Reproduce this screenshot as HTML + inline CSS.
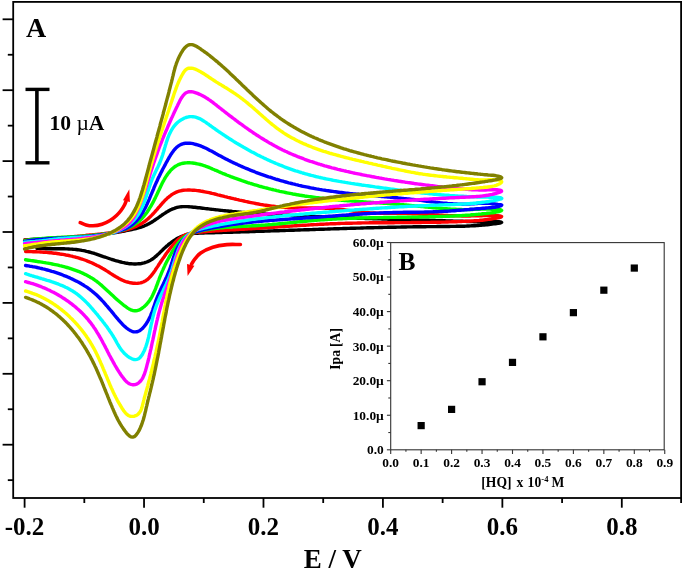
<!DOCTYPE html>
<html><head><meta charset="utf-8"><style>
html,body{margin:0;padding:0;background:#fff;width:685px;height:574px;overflow:hidden}
svg{display:block}
</style></head><body>
<svg width="685" height="574" viewBox="0 0 685 574">
<rect width="685" height="574" fill="#fff"/>
<rect x="13.2" y="1.9" width="667.9" height="496.1" fill="none" stroke="#000" stroke-width="1.8"/>
<line x1="2.6" y1="19.30" x2="13.2" y2="19.30" stroke="#000" stroke-width="1.8"/>
<line x1="7.8" y1="54.75" x2="13.2" y2="54.75" stroke="#000" stroke-width="1.8"/>
<line x1="2.6" y1="90.20" x2="13.2" y2="90.20" stroke="#000" stroke-width="1.8"/>
<line x1="7.8" y1="125.65" x2="13.2" y2="125.65" stroke="#000" stroke-width="1.8"/>
<line x1="2.6" y1="161.10" x2="13.2" y2="161.10" stroke="#000" stroke-width="1.8"/>
<line x1="7.8" y1="196.55" x2="13.2" y2="196.55" stroke="#000" stroke-width="1.8"/>
<line x1="2.6" y1="232.00" x2="13.2" y2="232.00" stroke="#000" stroke-width="1.8"/>
<line x1="7.8" y1="267.45" x2="13.2" y2="267.45" stroke="#000" stroke-width="1.8"/>
<line x1="2.6" y1="302.90" x2="13.2" y2="302.90" stroke="#000" stroke-width="1.8"/>
<line x1="7.8" y1="338.35" x2="13.2" y2="338.35" stroke="#000" stroke-width="1.8"/>
<line x1="2.6" y1="373.80" x2="13.2" y2="373.80" stroke="#000" stroke-width="1.8"/>
<line x1="7.8" y1="409.25" x2="13.2" y2="409.25" stroke="#000" stroke-width="1.8"/>
<line x1="2.6" y1="444.70" x2="13.2" y2="444.70" stroke="#000" stroke-width="1.8"/>
<line x1="7.8" y1="480.15" x2="13.2" y2="480.15" stroke="#000" stroke-width="1.8"/>
<line x1="24.60" y1="498" x2="24.60" y2="507.7" stroke="#000" stroke-width="1.8"/>
<line x1="84.32" y1="498" x2="84.32" y2="503.0" stroke="#000" stroke-width="1.8"/>
<line x1="144.04" y1="498" x2="144.04" y2="507.7" stroke="#000" stroke-width="1.8"/>
<line x1="203.76" y1="498" x2="203.76" y2="503.0" stroke="#000" stroke-width="1.8"/>
<line x1="263.48" y1="498" x2="263.48" y2="507.7" stroke="#000" stroke-width="1.8"/>
<line x1="323.20" y1="498" x2="323.20" y2="503.0" stroke="#000" stroke-width="1.8"/>
<line x1="382.92" y1="498" x2="382.92" y2="507.7" stroke="#000" stroke-width="1.8"/>
<line x1="442.64" y1="498" x2="442.64" y2="503.0" stroke="#000" stroke-width="1.8"/>
<line x1="502.36" y1="498" x2="502.36" y2="507.7" stroke="#000" stroke-width="1.8"/>
<line x1="562.08" y1="498" x2="562.08" y2="503.0" stroke="#000" stroke-width="1.8"/>
<line x1="621.80" y1="498" x2="621.80" y2="507.7" stroke="#000" stroke-width="1.8"/>
<line x1="681.10" y1="498" x2="681.10" y2="503.0" stroke="#000" stroke-width="1.8"/>
<path d="M37.0,248.3L38.5,248.4L39.9,248.5L41.4,248.5L42.9,248.6L44.4,248.6L45.9,248.7L47.4,248.7L48.9,248.7L50.4,248.7L51.9,248.7L53.4,248.7L54.9,248.7L56.5,248.7L58.0,248.7L59.5,248.7L61.0,248.8L62.5,248.8L64.1,248.8L65.6,248.9L67.1,248.9L68.6,249.0L70.1,249.1L71.6,249.1L73.1,249.3L74.6,249.4L76.1,249.5L77.6,249.7L79.1,249.9L80.5,250.1L82.0,250.4L83.5,250.6L84.9,250.9L86.4,251.3L87.8,251.6L89.2,252.0L90.6,252.4L92.1,252.8L93.5,253.2L94.9,253.7L96.3,254.1L97.7,254.6L99.1,255.1L100.5,255.6L101.9,256.1L103.3,256.6L104.8,257.0L106.2,257.5L107.6,258.0L109.0,258.5L110.5,259.0L111.9,259.5L113.4,259.9L114.8,260.4L116.3,260.8L117.8,261.2L119.3,261.6L120.8,262.0L122.3,262.4L123.8,262.7L125.3,263.0L126.8,263.2L128.3,263.5L129.7,263.7L131.2,263.8L132.7,263.9L134.2,264.0L135.7,264.0L137.1,263.9L138.5,263.8L140.0,263.7L141.4,263.5L142.8,263.2L144.2,262.9L145.5,262.4L146.8,262.0L148.2,261.4L149.5,260.8L150.7,260.1L152.0,259.3L153.2,258.5L154.4,257.6L155.5,256.6L156.7,255.6L157.8,254.5L159.0,253.5L160.1,252.4L161.2,251.3L162.4,250.2L163.5,249.0L164.6,248.0L165.8,246.9L167.0,245.9L168.1,244.9L169.3,243.9L170.5,243.0L171.7,242.1L173.0,241.2L174.2,240.4L175.4,239.6L176.7,238.8L178.0,238.1L179.3,237.5L180.6,236.9L181.9,236.3L183.3,235.8L184.7,235.3L186.0,234.9L187.4,234.5L188.8,234.2L190.3,234.0L191.7,233.8L193.2,233.6L194.6,233.4L196.1,233.3L197.6,233.2L199.1,233.1L200.6,233.1L202.1,233.0L203.6,233.0L205.1,232.9L206.6,232.9L208.1,232.8L209.6,232.8L211.1,232.8L212.6,232.7L214.1,232.7L215.6,232.6L217.1,232.6L218.6,232.6L220.1,232.5L221.6,232.5L223.2,232.4L224.7,232.4L226.2,232.4L227.7,232.3L229.2,232.3L230.7,232.2L232.2,232.2L233.7,232.1L235.2,232.1L236.7,232.0L238.2,232.0L239.7,232.0L241.2,231.9L242.7,231.9L244.2,231.8L245.7,231.8L247.2,231.7L248.7,231.7L250.2,231.6L251.7,231.6L253.2,231.5L254.7,231.5L256.2,231.4L257.7,231.4L259.2,231.3L260.7,231.3L262.2,231.2L263.7,231.2L265.2,231.1L266.7,231.1L268.2,231.0L269.7,231.0L271.2,230.9L272.7,230.9L274.2,230.8L275.7,230.8L277.2,230.7L278.8,230.7L280.3,230.6L281.8,230.6L283.3,230.5L284.8,230.5L286.3,230.4L287.8,230.4L289.3,230.3L290.8,230.3L292.3,230.2L293.8,230.2L295.3,230.1L296.8,230.1L298.3,230.0L299.8,230.0L301.3,229.9L302.8,229.9L304.3,229.8L305.8,229.8L307.3,229.7L308.8,229.7L310.3,229.6L311.8,229.6L313.3,229.5L314.8,229.5L316.3,229.4L317.8,229.4L319.3,229.3L320.8,229.3L322.3,229.2L323.8,229.2L325.3,229.1L326.8,229.1L328.2,229.0L329.7,229.0L331.2,228.9L332.7,228.9L334.2,228.8L335.7,228.8L337.2,228.7L338.7,228.7L340.2,228.6L341.7,228.6L343.2,228.5L344.7,228.5L346.2,228.5L347.7,228.4L349.2,228.4L350.7,228.3L352.2,228.3L353.7,228.2L355.2,228.2L356.7,228.1L358.2,228.1L359.7,228.1L361.2,228.0L362.7,228.0L364.2,227.9L365.7,227.9L367.2,227.8L368.7,227.8L370.2,227.8L371.7,227.7L373.2,227.7L374.7,227.6L376.2,227.6L377.6,227.6L379.1,227.5L380.6,227.5L382.1,227.5L383.6,227.4L385.1,227.4L386.6,227.4L388.1,227.3L389.6,227.3L391.1,227.3L392.6,227.2L394.1,227.2L395.6,227.2L397.1,227.1L398.6,227.1L400.1,227.1L401.6,227.0L403.1,227.0L404.5,227.0L406.0,227.0L407.5,226.9L409.0,226.9L410.5,226.9L412.0,226.9L413.5,226.8L415.0,226.8L416.5,226.8L418.0,226.8L419.5,226.7L421.0,226.7L422.5,226.7L424.0,226.7L425.4,226.7L426.9,226.6L428.4,226.6L429.9,226.6L431.4,226.6L432.9,226.6L434.4,226.6L435.9,226.6L437.4,226.5L438.9,226.5L440.4,226.5L441.9,226.5L443.3,226.5L444.8,226.5L446.3,226.5L447.8,226.5L449.3,226.5L450.8,226.4L452.3,226.4L453.8,226.4L455.3,226.4L456.8,226.3L458.3,226.3L459.8,226.3L461.3,226.2L462.8,226.2L464.3,226.2L465.8,226.1L467.4,226.0L468.9,226.0L470.4,225.9L471.9,225.8L473.4,225.8L475.0,225.7L476.5,225.6L478.0,225.5L479.6,225.4L481.1,225.2L482.7,225.1L484.2,225.0L485.8,224.8L487.3,224.7L488.9,224.5L490.5,224.3L492.1,224.1L493.6,223.9L495.2,223.7L496.8,223.5L498.4,223.2L500.0,223.0L501.1,222.7L501.6,222.4L501.3,222.1L500.3,221.9L498.8,221.7L497.1,221.6L495.4,221.6L493.6,221.6L491.8,221.7L490.1,221.7L488.3,221.8L486.7,221.8L485.0,221.8L483.4,221.8L481.8,221.8L480.3,221.8L478.7,221.8L477.2,221.7L475.7,221.7L474.2,221.7L472.8,221.6L471.3,221.6L469.8,221.5L468.4,221.5L466.9,221.5L465.4,221.4L464.0,221.4L462.5,221.3L461.0,221.3L459.6,221.2L458.1,221.2L456.6,221.2L455.2,221.1L453.7,221.1L452.2,221.0L450.7,221.0L449.3,220.9L447.8,220.9L446.3,220.9L444.8,220.8L443.4,220.8L441.9,220.7L440.4,220.7L438.9,220.6L437.4,220.6L436.0,220.6L434.5,220.5L433.0,220.5L431.5,220.4L430.0,220.4L428.5,220.3L427.0,220.3L425.6,220.3L424.1,220.2L422.6,220.2L421.1,220.1L419.6,220.1L418.1,220.0L416.6,220.0L415.1,220.0L413.6,219.9L412.1,219.9L410.7,219.8L409.2,219.8L407.7,219.7L406.2,219.7L404.7,219.7L403.2,219.6L401.7,219.6L400.2,219.5L398.7,219.5L397.2,219.4L395.7,219.4L394.2,219.3L392.7,219.3L391.2,219.3L389.7,219.2L388.2,219.2L386.7,219.1L385.2,219.1L383.7,219.0L382.2,219.0L380.7,218.9L379.2,218.9L377.7,218.8L376.2,218.8L374.7,218.7L373.2,218.7L371.7,218.6L370.2,218.6L368.7,218.6L367.2,218.5L365.7,218.5L364.1,218.4L362.6,218.4L361.1,218.3L359.6,218.2L358.1,218.2L356.6,218.1L355.1,218.1L353.6,218.0L352.1,218.0L350.6,217.9L349.1,217.9L347.6,217.8L346.1,217.8L344.6,217.7L343.1,217.7L341.6,217.6L340.1,217.6L338.6,217.5L337.0,217.4L335.5,217.4L334.0,217.3L332.5,217.3L331.0,217.2L329.5,217.1L328.0,217.1L326.5,217.0L325.0,217.0L323.5,216.9L322.0,216.8L320.5,216.8L319.0,216.7L317.5,216.7L316.0,216.6L314.5,216.5L313.0,216.5L311.5,216.4L310.0,216.3L308.5,216.3L307.0,216.2L305.5,216.1L304.0,216.1L302.5,216.0L301.0,215.9L299.5,215.8L298.0,215.8L296.5,215.7L295.0,215.6L293.5,215.5L292.0,215.5L290.5,215.4L289.0,215.3L287.5,215.2L286.0,215.2L284.5,215.1L283.0,215.0L281.5,214.9L280.0,214.9L278.5,214.8L277.0,214.7L275.5,214.6L274.0,214.5L272.5,214.4L271.0,214.3L269.5,214.3L268.0,214.2L266.5,214.1L265.0,214.0L263.6,213.9L262.1,213.8L260.6,213.7L259.1,213.6L257.6,213.5L256.1,213.4L254.6,213.3L253.1,213.2L251.6,213.1L250.1,213.0L248.7,212.8L247.2,212.7L245.7,212.6L244.2,212.5L242.7,212.4L241.2,212.3L239.7,212.1L238.2,212.0L236.8,211.9L235.3,211.7L233.8,211.6L232.3,211.5L230.8,211.3L229.3,211.2L227.9,211.0L226.4,210.9L224.9,210.7L223.4,210.6L221.9,210.4L220.4,210.3L219.0,210.1L217.5,209.9L216.0,209.8L214.5,209.6L213.0,209.4L211.5,209.3L210.0,209.1L208.6,208.9L207.1,208.7L205.6,208.6L204.1,208.4L202.6,208.2L201.1,208.0L199.6,207.8L198.0,207.7L196.5,207.5L195.0,207.3L193.5,207.2L191.9,207.0L190.4,206.9L188.9,206.7L187.4,206.6L185.8,206.6L184.3,206.6L182.8,206.6L181.4,206.7L179.9,206.9L178.5,207.1L177.0,207.4L175.6,207.8L174.3,208.3L172.9,208.8L171.6,209.4L170.2,210.0L168.9,210.7L167.6,211.5L166.3,212.2L165.1,213.1L163.8,213.9L162.5,214.7L161.3,215.6L160.0,216.5L158.8,217.4L157.5,218.3L156.2,219.2L155.0,220.0L153.7,220.9L152.4,221.7L151.1,222.5L149.8,223.2L148.5,223.9L147.2,224.6L145.8,225.2L144.5,225.8L143.1,226.3L141.7,226.8L140.4,227.3L139.0,227.7L137.5,228.2L136.1,228.5L134.7,228.9L133.3,229.2L131.8,229.5L130.4,229.8L128.9,230.1L127.5,230.4L126.0,230.7L124.6,231.0L123.1,231.2L121.6,231.5L120.1,231.7L118.7,232.0L117.2,232.3L115.7,232.5L114.2,232.7L112.8,233.0L111.3,233.2L109.8,233.5L108.3,233.7L106.8,233.9L105.3,234.1L103.8,234.3L102.4,234.5L100.9,234.7L99.4,234.9L97.9,235.1L96.4,235.3L94.9,235.5L93.4,235.6L91.9,235.8L90.4,235.9L88.9,236.1L87.4,236.2L85.9,236.3L84.4,236.5L83.0,236.6L81.5,236.7L80.0,236.8L78.5,236.9L77.0,237.0L75.5,237.1L74.0,237.2L72.5,237.3L71.0,237.4L69.5,237.4L68.0,237.5L66.5,237.6L65.0,237.7L63.5,237.8L62.0,237.8L60.5,237.9L59.0,238.0L57.5,238.0L56.0,238.1L54.5,238.2L53.0,238.2L51.5,238.3L50.0,238.4L48.5,238.5L47.1,238.5L45.6,238.6L44.1,238.7L42.6,238.8L41.1,238.8L39.6,238.9L38.1,239.0L36.6,239.1L35.1,239.2L33.6,239.3L32.1,239.4L30.6,239.5L29.1,239.6L27.6,239.7L26.1,239.9L24.6,240.0" fill="none" stroke="#000000" stroke-width="3.4" stroke-linecap="round" stroke-linejoin="round"/>
<path d="M25.6,251.5L27.1,251.5L28.6,251.6L30.1,251.6L31.6,251.6L33.1,251.7L34.6,251.7L36.1,251.8L37.6,251.9L39.1,251.9L40.6,252.0L42.1,252.1L43.6,252.2L45.1,252.3L46.6,252.4L48.1,252.6L49.6,252.7L51.1,252.8L52.6,253.0L54.1,253.2L55.6,253.3L57.0,253.5L58.5,253.7L60.0,254.0L61.5,254.2L63.0,254.4L64.4,254.7L65.9,255.0L67.4,255.2L68.8,255.5L70.3,255.9L71.8,256.2L73.2,256.6L74.7,256.9L76.1,257.3L77.5,257.7L79.0,258.1L80.4,258.6L81.8,259.0L83.2,259.5L84.7,260.0L86.1,260.5L87.5,261.1L88.8,261.6L90.2,262.2L91.6,262.8L93.0,263.4L94.3,264.1L95.7,264.7L97.0,265.4L98.4,266.1L99.7,266.8L101.0,267.5L102.3,268.3L103.6,269.0L104.9,269.8L106.2,270.6L107.5,271.4L108.8,272.2L110.0,273.1L111.3,273.9L112.6,274.7L113.8,275.5L115.1,276.3L116.4,277.1L117.7,277.8L119.0,278.5L120.4,279.2L121.7,279.9L123.1,280.5L124.5,281.1L125.9,281.6L127.4,282.0L128.8,282.4L130.3,282.8L131.8,283.0L133.3,283.2L134.8,283.3L136.2,283.4L137.7,283.3L139.1,283.1L140.5,282.9L141.9,282.5L143.2,282.0L144.5,281.4L145.7,280.7L146.9,279.9L148.0,278.9L149.1,277.9L150.2,276.8L151.2,275.7L152.2,274.4L153.1,273.2L154.1,271.9L155.0,270.6L155.8,269.2L156.7,267.9L157.6,266.6L158.4,265.3L159.2,264.0L160.1,262.8L160.9,261.5L161.7,260.3L162.5,259.1L163.3,257.9L164.2,256.7L165.0,255.5L165.8,254.3L166.7,253.1L167.5,251.9L168.4,250.8L169.3,249.6L170.2,248.4L171.2,247.2L172.1,246.0L173.1,244.8L174.1,243.7L175.1,242.5L176.2,241.4L177.3,240.3L178.4,239.3L179.5,238.4L180.7,237.5L182.0,236.6L183.2,235.9L184.5,235.2L185.9,234.6L187.3,234.2L188.7,233.8L190.2,233.5L191.6,233.2L193.1,233.0L194.6,232.8L196.1,232.6L197.6,232.4L199.1,232.3L200.6,232.1L202.1,232.0L203.6,231.8L205.1,231.7L206.6,231.6L208.1,231.4L209.6,231.3L211.1,231.2L212.6,231.1L214.1,231.0L215.6,230.9L217.1,230.8L218.6,230.7L220.1,230.6L221.6,230.5L223.1,230.4L224.6,230.3L226.1,230.2L227.6,230.1L229.1,230.0L230.6,229.9L232.1,229.9L233.6,229.8L235.1,229.7L236.6,229.6L238.1,229.5L239.6,229.4L241.0,229.3L242.5,229.2L244.0,229.2L245.5,229.1L247.0,229.0L248.5,228.9L250.0,228.8L251.5,228.7L253.0,228.6L254.5,228.5L256.0,228.4L257.5,228.3L259.0,228.2L260.5,228.1L262.0,228.0L263.5,227.9L265.0,227.8L266.5,227.7L267.9,227.6L269.4,227.5L270.9,227.4L272.4,227.3L273.9,227.2L275.4,227.1L276.9,227.0L278.4,226.9L279.9,226.8L281.4,226.7L282.9,226.6L284.4,226.5L285.9,226.4L287.4,226.3L288.9,226.2L290.4,226.1L291.9,226.0L293.4,225.9L294.9,225.8L296.4,225.7L297.9,225.6L299.4,225.5L300.9,225.4L302.4,225.3L303.9,225.3L305.4,225.2L306.9,225.1L308.4,225.0L309.9,224.9L311.3,224.8L312.8,224.7L314.3,224.6L315.8,224.6L317.3,224.5L318.8,224.4L320.3,224.3L321.8,224.3L323.3,224.2L324.8,224.1L326.3,224.0L327.8,224.0L329.3,223.9L330.8,223.8L332.3,223.8L333.8,223.7L335.3,223.7L336.8,223.6L338.3,223.5L339.8,223.5L341.3,223.4L342.8,223.4L344.3,223.4L345.8,223.3L347.3,223.3L348.8,223.2L350.3,223.2L351.8,223.2L353.3,223.1L354.8,223.1L356.3,223.1L357.8,223.0L359.3,223.0L360.8,223.0L362.3,222.9L363.8,222.9L365.3,222.9L366.8,222.9L368.3,222.9L369.8,222.8L371.3,222.8L372.8,222.8L374.3,222.8L375.8,222.8L377.3,222.8L378.8,222.8L380.3,222.7L381.8,222.7L383.3,222.7L384.8,222.7L386.3,222.7L387.8,222.7L389.3,222.7L390.8,222.7L392.3,222.7L393.8,222.7L395.3,222.6L396.8,222.6L398.3,222.6L399.8,222.6L401.3,222.6L402.8,222.6L404.3,222.6L405.8,222.6L407.3,222.6L408.8,222.6L410.3,222.6L411.8,222.5L413.3,222.5L414.8,222.5L416.3,222.5L417.8,222.5L419.3,222.5L420.8,222.5L422.3,222.4L423.8,222.4L425.3,222.4L426.8,222.4L428.3,222.4L429.8,222.4L431.3,222.3L432.8,222.3L434.3,222.3L435.8,222.2L437.3,222.2L438.8,222.2L440.3,222.2L441.8,222.1L443.2,222.1L444.7,222.1L446.2,222.0L447.7,222.0L449.2,221.9L450.7,221.9L452.2,221.8L453.7,221.8L455.2,221.7L456.7,221.7L458.2,221.6L459.7,221.6L461.2,221.5L462.7,221.4L464.2,221.4L465.7,221.3L467.1,221.2L468.6,221.2L470.1,221.1L471.6,221.0L473.1,220.9L474.6,220.8L476.1,220.7L477.6,220.6L479.1,220.5L480.7,220.3L482.2,220.2L483.7,220.0L485.3,219.8L486.8,219.6L488.4,219.4L489.9,219.2L491.5,219.0L493.1,218.7L494.7,218.4L496.3,218.2L497.9,217.8L499.5,217.5L500.8,217.2L501.5,216.8L501.6,216.5L500.9,216.2L499.6,216.0L498.0,215.8L496.1,215.7L494.2,215.7L492.2,215.6L490.2,215.6L488.4,215.6L486.6,215.6L484.9,215.6L483.2,215.6L481.6,215.7L480.1,215.7L478.6,215.8L477.2,215.8L475.7,215.8L474.3,215.9L473.0,215.9L471.6,215.9L470.2,216.0L468.9,216.0L467.5,216.0L466.1,216.0L464.7,216.0L463.3,216.0L461.9,216.0L460.4,215.9L459.0,215.9L457.6,215.9L456.1,215.8L454.7,215.8L453.2,215.7L451.7,215.7L450.3,215.6L448.8,215.6L447.3,215.5L445.8,215.4L444.3,215.4L442.8,215.3L441.3,215.2L439.8,215.1L438.3,215.0L436.8,215.0L435.3,214.9L433.8,214.8L432.2,214.7L430.7,214.6L429.2,214.5L427.7,214.4L426.1,214.3L424.6,214.3L423.1,214.2L421.5,214.1L420.0,214.0L418.5,213.9L416.9,213.9L415.4,213.8L413.9,213.7L412.3,213.7L410.8,213.6L409.3,213.5L407.8,213.5L406.2,213.4L404.7,213.4L403.2,213.3L401.7,213.3L400.2,213.3L398.7,213.3L397.1,213.2L395.6,213.2L394.2,213.2L392.7,213.2L391.2,213.2L389.7,213.2L388.2,213.2L386.7,213.2L385.2,213.2L383.7,213.2L382.3,213.2L380.8,213.2L379.3,213.1L377.8,213.1L376.4,213.1L374.9,213.0L373.4,213.0L371.9,212.9L370.4,212.9L369.0,212.8L367.5,212.7L366.0,212.6L364.5,212.5L363.1,212.3L361.6,212.2L360.1,212.0L358.6,211.8L357.1,211.7L355.6,211.5L354.2,211.3L352.7,211.1L351.2,210.8L349.7,210.6L348.2,210.4L346.7,210.2L345.2,210.0L343.7,209.8L342.2,209.6L340.7,209.4L339.2,209.2L337.7,209.0L336.2,208.9L334.7,208.7L333.2,208.6L331.7,208.5L330.2,208.4L328.8,208.3L327.3,208.2L325.8,208.2L324.3,208.1L322.8,208.1L321.3,208.0L319.8,208.0L318.3,208.0L316.8,208.0L315.3,208.0L313.8,208.0L312.3,208.0L310.8,208.0L309.3,208.0L307.8,208.0L306.3,208.0L304.8,208.0L303.3,208.0L301.8,208.0L300.3,208.0L298.8,208.0L297.3,207.9L295.8,207.9L294.3,207.9L292.8,207.8L291.3,207.8L289.8,207.7L288.3,207.7L286.8,207.6L285.3,207.5L283.8,207.4L282.3,207.3L280.8,207.1L279.3,207.0L277.9,206.8L276.4,206.7L274.9,206.5L273.4,206.3L271.9,206.1L270.4,205.9L268.9,205.7L267.4,205.5L265.9,205.3L264.5,205.1L263.0,204.8L261.5,204.6L260.0,204.3L258.5,204.0L257.1,203.8L255.6,203.5L254.1,203.2L252.6,202.9L251.1,202.6L249.7,202.3L248.2,202.0L246.7,201.7L245.3,201.4L243.8,201.0L242.3,200.7L240.9,200.4L239.4,200.1L237.9,199.7L236.5,199.4L235.0,199.0L233.6,198.7L232.1,198.3L230.7,198.0L229.2,197.6L227.8,197.3L226.3,196.9L224.9,196.6L223.4,196.2L222.0,195.8L220.6,195.5L219.1,195.1L217.7,194.8L216.3,194.4L214.8,194.0L213.4,193.7L212.0,193.4L210.5,193.0L209.1,192.7L207.6,192.4L206.2,192.1L204.7,191.8L203.2,191.5L201.8,191.3L200.3,191.0L198.8,190.8L197.3,190.6L195.7,190.4L194.2,190.3L192.6,190.2L191.1,190.1L189.5,190.0L188.0,190.0L186.4,190.1L184.9,190.1L183.4,190.3L181.9,190.5L180.5,190.8L179.1,191.2L177.7,191.6L176.4,192.1L175.1,192.7L173.8,193.4L172.6,194.1L171.4,194.9L170.3,195.8L169.1,196.7L168.0,197.6L166.9,198.6L165.9,199.6L164.8,200.6L163.8,201.7L162.7,202.8L161.7,204.0L160.7,205.1L159.7,206.3L158.7,207.4L157.7,208.6L156.7,209.8L155.7,210.9L154.7,212.1L153.7,213.2L152.6,214.3L151.6,215.4L150.5,216.5L149.4,217.5L148.3,218.6L147.2,219.5L146.1,220.4L144.9,221.3L143.7,222.2L142.5,223.0L141.2,223.7L139.9,224.5L138.7,225.1L137.3,225.8L136.0,226.4L134.7,227.0L133.3,227.5L131.9,228.1L130.5,228.5L129.1,229.0L127.7,229.4L126.3,229.8L124.8,230.2L123.4,230.6L121.9,230.9L120.4,231.2L118.9,231.5L117.4,231.8L115.9,232.1L114.4,232.3L112.9,232.6L111.4,232.8L109.8,233.0L108.3,233.2L106.8,233.3L105.2,233.5L103.7,233.7L102.2,233.8L100.6,234.0L99.1,234.1L97.6,234.3L96.0,234.4L94.5,234.6L93.0,234.7L91.5,234.9L90.0,235.0L88.5,235.2L87.0,235.3L85.5,235.5L84.0,235.6L82.5,235.8L81.1,235.9L79.6,236.1L78.1,236.2L76.6,236.4L75.2,236.5L73.7,236.7L72.2,236.8L70.8,236.9L69.3,237.1L67.8,237.2L66.4,237.4L64.9,237.5L63.4,237.6L62.0,237.8L60.5,237.9L59.1,238.0L57.6,238.2L56.1,238.3L54.7,238.4L53.2,238.5L51.7,238.7L50.2,238.8L48.8,238.9L47.3,239.0L45.8,239.1L44.3,239.2L42.8,239.3L41.3,239.4L39.8,239.5L38.3,239.6L36.8,239.7L35.3,239.8L33.8,239.8L32.3,239.9L30.8,240.0L29.2,240.0L27.7,240.1L26.2,240.1L24.6,240.2" fill="none" stroke="#ff0000" stroke-width="3.4" stroke-linecap="round" stroke-linejoin="round"/>
<path d="M25.6,259.8L27.0,260.0L28.5,260.2L29.9,260.4L31.4,260.6L32.8,260.8L34.3,261.0L35.8,261.2L37.3,261.5L38.7,261.7L40.2,261.9L41.7,262.1L43.2,262.4L44.7,262.6L46.2,262.9L47.7,263.1L49.2,263.4L50.7,263.7L52.2,264.0L53.7,264.3L55.2,264.6L56.7,264.9L58.1,265.2L59.6,265.6L61.1,265.9L62.6,266.3L64.0,266.7L65.5,267.1L67.0,267.5L68.4,267.9L69.9,268.3L71.3,268.8L72.7,269.3L74.1,269.8L75.6,270.3L77.0,270.8L78.3,271.3L79.7,271.9L81.1,272.5L82.5,273.1L83.8,273.7L85.1,274.4L86.4,275.0L87.7,275.7L89.0,276.4L90.3,277.2L91.6,277.9L92.8,278.7L94.0,279.5L95.2,280.4L96.4,281.2L97.6,282.1L98.8,283.0L99.9,284.0L101.0,284.9L102.2,285.9L103.3,286.9L104.4,287.9L105.5,288.9L106.6,289.9L107.7,290.9L108.8,291.9L109.9,293.0L111.0,294.0L112.1,295.1L113.2,296.1L114.4,297.2L115.5,298.2L116.6,299.2L117.8,300.3L119.0,301.3L120.2,302.3L121.4,303.3L122.6,304.3L123.8,305.3L125.1,306.2L126.4,307.2L127.7,308.1L129.0,308.9L130.4,309.6L131.7,310.2L133.1,310.6L134.5,310.8L135.9,310.8L137.2,310.6L138.6,310.2L140.0,309.6L141.3,308.8L142.5,307.9L143.7,307.0L144.8,306.1L145.9,305.0L146.9,304.0L147.8,302.8L148.7,301.7L149.6,300.5L150.4,299.2L151.2,298.0L151.9,296.7L152.6,295.3L153.2,294.0L153.9,292.6L154.5,291.2L155.1,289.8L155.7,288.4L156.2,286.9L156.8,285.5L157.3,284.1L157.8,282.6L158.3,281.2L158.9,279.8L159.4,278.4L159.9,277.0L160.5,275.6L161.1,274.2L161.6,272.8L162.2,271.4L162.8,270.1L163.4,268.7L164.0,267.4L164.6,266.1L165.2,264.7L165.9,263.4L166.5,262.1L167.2,260.8L167.9,259.5L168.6,258.2L169.3,256.9L170.0,255.6L170.8,254.3L171.5,253.0L172.3,251.7L173.1,250.4L173.9,249.1L174.8,247.8L175.7,246.5L176.6,245.2L177.5,244.0L178.4,242.8L179.4,241.6L180.4,240.5L181.5,239.4L182.6,238.4L183.7,237.5L184.9,236.6L186.2,235.8L187.4,235.1L188.7,234.5L190.1,233.9L191.5,233.3L192.9,232.9L194.3,232.4L195.7,232.0L197.2,231.6L198.6,231.3L200.1,231.0L201.6,230.7L203.0,230.4L204.5,230.1L206.0,229.8L207.5,229.6L209.0,229.3L210.5,229.1L211.9,228.9L213.4,228.7L214.9,228.5L216.4,228.3L217.9,228.2L219.4,228.0L220.9,227.8L222.4,227.7L223.9,227.6L225.4,227.4L226.9,227.3L228.4,227.2L229.9,227.1L231.4,227.0L232.9,226.9L234.4,226.8L235.9,226.7L237.4,226.6L238.9,226.5L240.4,226.5L241.9,226.4L243.4,226.3L244.9,226.2L246.4,226.2L247.9,226.1L249.4,226.0L250.9,225.9L252.4,225.8L253.9,225.8L255.4,225.7L256.9,225.6L258.4,225.5L259.9,225.4L261.4,225.3L262.9,225.2L264.4,225.1L265.8,225.0L267.3,224.9L268.8,224.7L270.3,224.6L271.8,224.5L273.3,224.3L274.8,224.2L276.3,224.1L277.8,223.9L279.2,223.8L280.7,223.7L282.2,223.5L283.7,223.4L285.2,223.2L286.7,223.1L288.1,222.9L289.6,222.8L291.1,222.6L292.6,222.5L294.1,222.3L295.6,222.2L297.1,222.0L298.5,221.9L300.0,221.7L301.5,221.6L303.0,221.4L304.5,221.3L306.0,221.2L307.5,221.0L308.9,220.9L310.4,220.8L311.9,220.6L313.4,220.5L314.9,220.4L316.4,220.3L317.9,220.1L319.4,220.0L320.9,219.9L322.4,219.8L323.9,219.7L325.4,219.6L326.9,219.5L328.4,219.4L329.9,219.3L331.4,219.2L332.9,219.1L334.4,219.1L335.9,219.0L337.4,218.9L338.9,218.8L340.4,218.8L341.9,218.7L343.4,218.6L344.9,218.6L346.4,218.5L347.9,218.4L349.4,218.4L350.9,218.3L352.4,218.3L353.9,218.2L355.4,218.2L357.0,218.1L358.5,218.1L360.0,218.0L361.5,218.0L363.0,218.0L364.5,217.9L366.0,217.9L367.5,217.9L369.0,217.8L370.5,217.8L372.0,217.8L373.5,217.7L375.0,217.7L376.5,217.7L378.0,217.6L379.6,217.6L381.1,217.6L382.6,217.6L384.1,217.5L385.6,217.5L387.1,217.5L388.6,217.5L390.1,217.4L391.6,217.4L393.1,217.4L394.6,217.4L396.1,217.4L397.6,217.3L399.1,217.3L400.6,217.3L402.1,217.3L403.6,217.3L405.1,217.2L406.6,217.2L408.1,217.2L409.5,217.2L411.0,217.1L412.5,217.1L414.0,217.1L415.5,217.1L417.0,217.1L418.5,217.0L420.0,217.0L421.4,217.0L422.9,216.9L424.4,216.9L425.9,216.9L427.4,216.9L428.8,216.8L430.3,216.8L431.8,216.8L433.3,216.7L434.7,216.7L436.2,216.6L437.7,216.6L439.2,216.6L440.6,216.5L442.1,216.5L443.5,216.4L445.0,216.4L446.5,216.3L447.9,216.2L449.4,216.2L450.9,216.1L452.4,216.1L453.8,216.0L455.3,215.9L456.8,215.8L458.3,215.8L459.8,215.7L461.3,215.6L462.8,215.5L464.3,215.4L465.8,215.3L467.3,215.2L468.8,215.1L470.3,215.0L471.9,214.8L473.4,214.7L475.0,214.6L476.5,214.4L478.1,214.3L479.7,214.1L481.3,214.0L482.9,213.8L484.5,213.6L486.1,213.5L487.7,213.3L489.4,213.1L491.1,212.9L492.7,212.7L494.4,212.5L496.0,212.2L497.6,211.9L499.0,211.6L500.3,211.2L501.2,210.8L501.6,210.4L501.3,210.1L500.5,209.8L499.3,209.6L497.7,209.5L495.8,209.3L493.8,209.2L491.8,209.2L489.8,209.1L487.9,209.1L486.1,209.1L484.4,209.1L482.7,209.1L481.1,209.1L479.6,209.2L478.1,209.2L476.6,209.3L475.2,209.3L473.8,209.4L472.4,209.5L471.0,209.5L469.6,209.5L468.3,209.6L466.9,209.6L465.5,209.6L464.1,209.6L462.7,209.6L461.2,209.5L459.8,209.5L458.4,209.5L457.0,209.4L455.5,209.3L454.1,209.3L452.6,209.2L451.2,209.1L449.7,209.0L448.2,208.9L446.8,208.8L445.3,208.7L443.8,208.6L442.3,208.5L440.9,208.4L439.4,208.2L437.9,208.1L436.4,208.0L434.9,207.8L433.4,207.7L431.9,207.6L430.4,207.4L428.9,207.3L427.4,207.1L425.8,207.0L424.3,206.8L422.8,206.6L421.3,206.5L419.8,206.3L418.3,206.2L416.8,206.0L415.2,205.9L413.7,205.7L412.2,205.6L410.7,205.4L409.2,205.3L407.7,205.1L406.1,205.0L404.6,204.9L403.1,204.7L401.6,204.6L400.1,204.5L398.6,204.3L397.1,204.2L395.6,204.1L394.1,204.0L392.5,203.9L391.0,203.8L389.5,203.6L388.0,203.5L386.5,203.4L385.0,203.3L383.5,203.2L382.0,203.1L380.5,203.0L379.0,202.9L377.5,202.8L376.0,202.7L374.5,202.6L373.0,202.5L371.5,202.4L370.0,202.3L368.6,202.2L367.1,202.1L365.6,202.0L364.1,201.9L362.6,201.8L361.1,201.7L359.6,201.6L358.1,201.5L356.6,201.4L355.1,201.2L353.6,201.1L352.2,201.0L350.7,200.9L349.2,200.8L347.7,200.7L346.2,200.6L344.7,200.5L343.2,200.3L341.8,200.2L340.3,200.1L338.8,200.0L337.3,199.8L335.8,199.7L334.3,199.6L332.9,199.4L331.4,199.3L329.9,199.1L328.4,199.0L326.9,198.8L325.4,198.7L324.0,198.5L322.5,198.3L321.0,198.2L319.5,198.0L318.0,197.8L316.6,197.6L315.1,197.4L313.6,197.2L312.1,197.0L310.7,196.8L309.2,196.6L307.7,196.4L306.2,196.2L304.7,196.0L303.3,195.7L301.8,195.5L300.3,195.3L298.8,195.0L297.3,194.8L295.9,194.5L294.4,194.2L292.9,194.0L291.4,193.7L290.0,193.4L288.5,193.1L287.0,192.8L285.5,192.5L284.1,192.2L282.6,191.9L281.1,191.6L279.7,191.3L278.2,190.9L276.7,190.6L275.2,190.2L273.8,189.9L272.3,189.5L270.9,189.2L269.4,188.8L267.9,188.4L266.5,188.0L265.0,187.7L263.6,187.3L262.1,186.9L260.7,186.5L259.2,186.1L257.8,185.6L256.3,185.2L254.9,184.8L253.4,184.4L252.0,183.9L250.6,183.5L249.1,183.0L247.7,182.6L246.3,182.1L244.9,181.6L243.4,181.1L242.0,180.7L240.6,180.2L239.2,179.7L237.8,179.2L236.4,178.7L235.0,178.2L233.6,177.6L232.2,177.1L230.8,176.6L229.4,176.0L228.0,175.5L226.6,175.0L225.3,174.4L223.9,173.8L222.5,173.3L221.2,172.7L219.8,172.1L218.4,171.5L217.1,170.9L215.7,170.3L214.4,169.8L213.0,169.2L211.7,168.6L210.3,168.0L208.9,167.4L207.5,166.9L206.1,166.4L204.7,165.8L203.3,165.4L201.8,164.9L200.3,164.5L198.8,164.1L197.3,163.8L195.7,163.5L194.2,163.2L192.6,163.0L191.0,162.9L189.4,162.8L187.8,162.8L186.2,162.9L184.7,163.0L183.2,163.2L181.8,163.5L180.5,163.9L179.2,164.4L177.9,164.9L176.7,165.6L175.5,166.3L174.4,167.0L173.4,167.8L172.3,168.7L171.3,169.7L170.4,170.7L169.5,171.8L168.6,172.9L167.7,174.0L166.9,175.2L166.1,176.4L165.3,177.7L164.5,179.0L163.8,180.3L163.0,181.7L162.3,183.1L161.6,184.5L160.9,185.9L160.3,187.3L159.6,188.7L158.9,190.2L158.2,191.6L157.6,193.1L156.9,194.5L156.2,195.9L155.5,197.4L154.8,198.8L154.1,200.2L153.4,201.6L152.7,202.9L151.9,204.3L151.2,205.6L150.4,206.9L149.6,208.2L148.8,209.5L148.0,210.7L147.2,212.0L146.3,213.2L145.4,214.3L144.5,215.5L143.6,216.6L142.6,217.7L141.6,218.7L140.6,219.7L139.6,220.7L138.5,221.6L137.4,222.5L136.2,223.4L135.1,224.2L133.9,225.0L132.6,225.7L131.3,226.4L130.0,227.1L128.7,227.7L127.3,228.3L125.9,228.8L124.5,229.3L123.1,229.8L121.7,230.3L120.2,230.7L118.7,231.1L117.2,231.5L115.7,231.8L114.2,232.1L112.7,232.5L111.2,232.8L109.7,233.0L108.2,233.3L106.7,233.6L105.2,233.8L103.7,234.0L102.2,234.3L100.7,234.5L99.2,234.7L97.7,234.8L96.2,235.0L94.7,235.2L93.2,235.3L91.7,235.5L90.2,235.6L88.7,235.8L87.2,235.9L85.7,236.0L84.2,236.1L82.7,236.2L81.2,236.3L79.8,236.4L78.3,236.5L76.8,236.6L75.3,236.7L73.8,236.7L72.3,236.8L70.8,236.9L69.4,237.0L67.9,237.0L66.4,237.1L64.9,237.2L63.4,237.2L61.9,237.3L60.4,237.4L59.0,237.4L57.5,237.5L56.0,237.6L54.5,237.7L53.0,237.8L51.5,237.8L50.0,237.9L48.5,238.0L47.1,238.1L45.6,238.2L44.1,238.4L42.6,238.5L41.1,238.6L39.6,238.7L38.1,238.9L36.6,239.0L35.1,239.2L33.6,239.4L32.1,239.5L30.6,239.7L29.1,239.9L27.6,240.1L26.1,240.4L24.6,240.6" fill="none" stroke="#00ff00" stroke-width="3.4" stroke-linecap="round" stroke-linejoin="round"/>
<path d="M25.6,265.5L27.0,265.7L28.4,265.9L29.8,266.2L31.2,266.4L32.7,266.7L34.1,266.9L35.6,267.2L37.0,267.5L38.5,267.8L39.9,268.2L41.4,268.5L42.9,268.9L44.4,269.2L45.8,269.6L47.3,270.0L48.8,270.4L50.3,270.8L51.7,271.3L53.2,271.7L54.7,272.2L56.2,272.7L57.6,273.2L59.1,273.7L60.5,274.2L62.0,274.7L63.4,275.3L64.9,275.9L66.3,276.4L67.7,277.0L69.1,277.6L70.5,278.3L71.9,278.9L73.3,279.6L74.6,280.2L76.0,280.9L77.3,281.6L78.7,282.3L80.0,283.0L81.3,283.8L82.5,284.5L83.8,285.3L85.0,286.1L86.3,286.9L87.5,287.7L88.7,288.6L89.8,289.4L91.0,290.3L92.1,291.2L93.2,292.1L94.3,293.0L95.3,293.9L96.4,294.8L97.4,295.8L98.4,296.8L99.4,297.8L100.4,298.8L101.4,299.8L102.4,300.9L103.4,301.9L104.3,303.0L105.3,304.1L106.3,305.3L107.3,306.4L108.3,307.6L109.3,308.8L110.3,310.0L111.3,311.2L112.3,312.4L113.4,313.7L114.4,315.0L115.5,316.3L116.6,317.7L117.8,319.0L118.9,320.3L120.1,321.7L121.2,322.9L122.4,324.2L123.6,325.4L124.8,326.5L126.0,327.6L127.2,328.5L128.4,329.4L129.6,330.1L130.8,330.8L132.0,331.3L133.1,331.7L134.3,331.9L135.5,331.9L136.6,331.8L137.8,331.5L138.9,331.0L140.0,330.4L141.1,329.6L142.1,328.7L143.1,327.7L144.1,326.6L145.0,325.4L146.0,324.2L146.8,322.8L147.7,321.5L148.4,320.1L149.2,318.7L149.8,317.3L150.5,315.9L151.1,314.5L151.6,313.0L152.2,311.6L152.7,310.2L153.1,308.8L153.6,307.4L154.1,306.0L154.6,304.6L155.0,303.2L155.5,301.8L156.0,300.4L156.6,299.0L157.1,297.6L157.7,296.2L158.3,294.8L158.9,293.4L159.5,292.1L160.1,290.7L160.8,289.3L161.4,287.9L162.1,286.6L162.7,285.2L163.4,283.8L164.0,282.5L164.7,281.1L165.3,279.7L165.9,278.3L166.6,277.0L167.2,275.6L167.8,274.2L168.3,272.8L168.9,271.5L169.4,270.1L169.9,268.7L170.4,267.3L170.9,265.9L171.3,264.5L171.8,263.1L172.2,261.7L172.6,260.3L173.0,258.9L173.5,257.5L174.0,256.1L174.5,254.7L175.0,253.3L175.6,251.9L176.2,250.5L176.8,249.1L177.6,247.7L178.3,246.3L179.1,245.0L180.0,243.7L180.9,242.4L181.8,241.2L182.8,240.1L183.9,238.9L185.0,237.9L186.1,236.9L187.3,236.0L188.5,235.2L189.8,234.5L191.1,233.8L192.4,233.2L193.7,232.6L195.1,232.1L196.5,231.6L198.0,231.2L199.4,230.8L200.8,230.4L202.3,230.1L203.8,229.7L205.2,229.4L206.7,229.1L208.2,228.8L209.7,228.5L211.1,228.2L212.6,227.9L214.1,227.6L215.6,227.3L217.0,227.1L218.5,226.8L220.0,226.5L221.5,226.3L223.0,226.0L224.4,225.8L225.9,225.5L227.4,225.3L228.9,225.1L230.4,224.9L231.8,224.6L233.3,224.4L234.8,224.2L236.3,224.0L237.8,223.8L239.3,223.6L240.8,223.5L242.3,223.3L243.7,223.1L245.2,222.9L246.7,222.7L248.2,222.6L249.7,222.4L251.2,222.2L252.7,222.1L254.2,221.9L255.7,221.8L257.2,221.6L258.7,221.5L260.2,221.4L261.6,221.2L263.1,221.1L264.6,220.9L266.1,220.8L267.6,220.7L269.1,220.6L270.6,220.4L272.1,220.3L273.6,220.2L275.1,220.1L276.6,220.0L278.1,219.9L279.6,219.8L281.1,219.6L282.6,219.5L284.1,219.4L285.6,219.3L287.1,219.2L288.6,219.1L290.1,219.0L291.6,218.9L293.1,218.8L294.6,218.7L296.0,218.6L297.5,218.5L299.0,218.4L300.5,218.3L302.0,218.2L303.5,218.1L305.0,218.0L306.5,217.9L308.0,217.8L309.5,217.7L311.0,217.6L312.5,217.5L314.0,217.4L315.5,217.3L317.0,217.2L318.5,217.1L320.0,217.0L321.5,216.9L323.0,216.7L324.5,216.6L325.9,216.5L327.4,216.4L328.9,216.3L330.4,216.2L331.9,216.1L333.4,216.0L334.9,215.9L336.4,215.7L337.9,215.6L339.4,215.5L340.9,215.4L342.4,215.3L343.9,215.2L345.4,215.1L346.8,215.0L348.3,214.9L349.8,214.8L351.3,214.7L352.8,214.6L354.3,214.5L355.8,214.4L357.3,214.3L358.8,214.2L360.3,214.1L361.8,214.0L363.3,213.9L364.8,213.8L366.3,213.7L367.8,213.6L369.3,213.5L370.8,213.4L372.3,213.4L373.8,213.3L375.3,213.2L376.8,213.1L378.3,213.1L379.7,213.0L381.2,212.9L382.8,212.9L384.3,212.8L385.8,212.8L387.3,212.7L388.8,212.7L390.3,212.6L391.8,212.6L393.3,212.5L394.8,212.5L396.3,212.5L397.8,212.4L399.3,212.4L400.8,212.4L402.3,212.4L403.8,212.3L405.3,212.3L406.8,212.3L408.3,212.3L409.8,212.3L411.3,212.2L412.9,212.2L414.4,212.2L415.9,212.2L417.4,212.2L418.9,212.2L420.4,212.1L421.9,212.1L423.4,212.1L424.9,212.0L426.4,212.0L427.9,212.0L429.4,211.9L430.9,211.9L432.3,211.9L433.8,211.8L435.3,211.8L436.8,211.7L438.3,211.6L439.8,211.6L441.3,211.5L442.7,211.4L444.2,211.3L445.7,211.2L447.2,211.2L448.7,211.1L450.1,211.0L451.6,210.9L453.1,210.8L454.6,210.7L456.1,210.5L457.5,210.4L459.0,210.3L460.5,210.2L462.0,210.1L463.5,210.0L465.0,209.8L466.4,209.7L467.9,209.6L469.4,209.5L470.9,209.3L472.4,209.2L473.9,209.1L475.4,208.9L477.0,208.8L478.5,208.7L480.0,208.6L481.5,208.4L483.0,208.3L484.6,208.2L486.1,208.0L487.7,207.9L489.2,207.8L490.8,207.7L492.3,207.5L493.9,207.4L495.5,207.2L497.2,206.9L498.9,206.5L500.4,206.0L501.4,205.5L501.7,205.1L501.0,204.8L499.6,204.6L497.9,204.4L496.2,204.1L494.5,203.9L492.7,203.7L491.0,203.5L489.3,203.4L487.7,203.3L486.1,203.2L484.5,203.2L482.9,203.2L481.4,203.3L479.9,203.4L478.4,203.4L476.9,203.5L475.5,203.6L474.0,203.7L472.6,203.8L471.1,203.9L469.7,204.0L468.2,204.1L466.7,204.1L465.3,204.1L463.8,204.2L462.4,204.2L460.9,204.1L459.4,204.1L458.0,204.1L456.5,204.0L455.0,204.0L453.6,203.9L452.1,203.8L450.6,203.7L449.1,203.6L447.6,203.5L446.2,203.3L444.7,203.2L443.2,203.1L441.7,202.9L440.2,202.8L438.7,202.6L437.2,202.4L435.7,202.3L434.3,202.1L432.8,201.9L431.3,201.7L429.8,201.6L428.3,201.4L426.8,201.2L425.3,201.0L423.8,200.8L422.3,200.6L420.8,200.4L419.3,200.3L417.8,200.1L416.3,199.9L414.8,199.7L413.3,199.5L411.8,199.4L410.3,199.2L408.8,199.0L407.3,198.9L405.8,198.7L404.3,198.6L402.8,198.4L401.3,198.3L399.8,198.1L398.3,198.0L396.8,197.8L395.3,197.7L393.8,197.5L392.3,197.4L390.8,197.3L389.3,197.1L387.8,197.0L386.3,196.9L384.8,196.7L383.3,196.6L381.8,196.5L380.3,196.3L378.8,196.2L377.3,196.1L375.8,195.9L374.3,195.8L372.9,195.7L371.4,195.6L369.9,195.4L368.4,195.3L366.9,195.1L365.4,195.0L363.9,194.9L362.4,194.7L360.9,194.6L359.4,194.5L357.9,194.3L356.4,194.2L354.9,194.0L353.5,193.9L352.0,193.7L350.5,193.6L349.0,193.4L347.5,193.2L346.0,193.1L344.5,192.9L343.0,192.7L341.6,192.5L340.1,192.4L338.6,192.2L337.1,192.0L335.6,191.8L334.1,191.6L332.7,191.4L331.2,191.2L329.7,191.0L328.2,190.8L326.7,190.6L325.3,190.3L323.8,190.1L322.3,189.9L320.8,189.6L319.4,189.4L317.9,189.1L316.4,188.9L314.9,188.6L313.5,188.3L312.0,188.1L310.5,187.8L309.1,187.5L307.6,187.2L306.1,186.9L304.7,186.6L303.2,186.3L301.7,186.0L300.3,185.6L298.8,185.3L297.4,184.9L295.9,184.6L294.4,184.2L293.0,183.9L291.5,183.5L290.1,183.1L288.6,182.8L287.2,182.4L285.7,182.0L284.3,181.6L282.9,181.2L281.4,180.8L280.0,180.4L278.5,179.9L277.1,179.5L275.7,179.1L274.2,178.6L272.8,178.2L271.4,177.7L270.0,177.2L268.5,176.8L267.1,176.3L265.7,175.8L264.3,175.3L262.9,174.8L261.4,174.3L260.0,173.8L258.6,173.3L257.2,172.8L255.8,172.3L254.4,171.7L253.0,171.2L251.6,170.6L250.3,170.1L248.9,169.5L247.5,168.9L246.1,168.4L244.7,167.8L243.4,167.2L242.0,166.6L240.6,166.0L239.2,165.4L237.9,164.8L236.5,164.1L235.2,163.5L233.8,162.9L232.5,162.2L231.1,161.6L229.8,160.9L228.4,160.3L227.1,159.6L225.8,158.9L224.5,158.2L223.1,157.5L221.8,156.8L220.5,156.1L219.2,155.4L217.9,154.7L216.6,154.0L215.3,153.3L214.0,152.5L212.7,151.8L211.4,151.1L210.0,150.4L208.7,149.7L207.4,149.0L206.0,148.3L204.7,147.7L203.3,147.1L201.9,146.5L200.5,145.9L199.0,145.4L197.5,144.9L196.0,144.5L194.5,144.1L193.0,143.7L191.4,143.4L189.9,143.3L188.4,143.2L186.9,143.1L185.4,143.3L184.0,143.5L182.6,143.8L181.3,144.3L180.1,144.9L178.9,145.6L177.7,146.5L176.6,147.4L175.6,148.4L174.6,149.5L173.6,150.7L172.7,151.9L171.8,153.2L170.9,154.5L170.1,155.9L169.3,157.2L168.5,158.6L167.7,160.0L167.0,161.4L166.2,162.7L165.5,164.1L164.8,165.4L164.1,166.7L163.4,168.0L162.7,169.3L162.1,170.6L161.4,171.9L160.7,173.2L160.1,174.5L159.5,175.8L158.8,177.1L158.2,178.3L157.6,179.6L157.0,181.0L156.4,182.3L155.8,183.6L155.2,184.9L154.6,186.3L154.0,187.7L153.5,189.1L152.9,190.5L152.3,191.9L151.7,193.3L151.1,194.7L150.5,196.2L149.9,197.6L149.3,199.1L148.7,200.5L148.0,201.9L147.4,203.4L146.7,204.8L146.1,206.2L145.4,207.6L144.6,209.0L143.9,210.3L143.2,211.7L142.4,213.0L141.6,214.2L140.7,215.5L139.9,216.7L139.0,217.9L138.1,219.0L137.1,220.2L136.1,221.2L135.1,222.2L134.0,223.2L132.9,224.1L131.8,225.0L130.6,225.8L129.4,226.6L128.1,227.3L126.9,228.0L125.5,228.6L124.2,229.2L122.8,229.7L121.4,230.2L120.0,230.7L118.6,231.2L117.1,231.6L115.7,232.0L114.2,232.3L112.7,232.7L111.2,233.0L109.7,233.3L108.2,233.6L106.7,233.9L105.3,234.1L103.8,234.4L102.3,234.6L100.8,234.8L99.3,235.1L97.8,235.3L96.3,235.5L94.8,235.6L93.3,235.8L91.8,236.0L90.3,236.1L88.8,236.3L87.3,236.4L85.8,236.5L84.4,236.7L82.9,236.8L81.4,236.9L79.9,237.0L78.4,237.1L76.9,237.2L75.4,237.3L73.9,237.4L72.4,237.5L70.9,237.5L69.4,237.6L67.9,237.7L66.4,237.8L64.9,237.9L63.4,237.9L61.9,238.0L60.4,238.1L58.9,238.2L57.4,238.2L55.9,238.3L54.4,238.4L52.9,238.5L51.4,238.6L50.0,238.7L48.5,238.8L47.0,238.9L45.5,239.0L44.0,239.1L42.5,239.2L41.0,239.4L39.5,239.5L38.0,239.7L36.5,239.8L35.0,240.0L33.5,240.1L32.0,240.3L30.6,240.5L29.1,240.7L27.6,240.9L26.1,241.2L24.6,241.4" fill="none" stroke="#0000ff" stroke-width="3.4" stroke-linecap="round" stroke-linejoin="round"/>
<path d="M25.6,273.7L27.0,274.2L28.4,274.6L29.8,275.1L31.2,275.5L32.6,276.0L34.0,276.4L35.4,276.8L36.9,277.2L38.3,277.7L39.8,278.1L41.2,278.5L42.7,279.0L44.2,279.4L45.6,279.8L47.1,280.3L48.5,280.7L50.0,281.2L51.4,281.7L52.9,282.1L54.3,282.6L55.8,283.1L57.2,283.7L58.6,284.2L60.0,284.8L61.4,285.3L62.8,285.9L64.2,286.5L65.5,287.2L66.9,287.8L68.2,288.5L69.5,289.2L70.8,290.0L72.1,290.7L73.3,291.5L74.6,292.3L75.8,293.2L77.0,294.0L78.1,294.9L79.3,295.9L80.4,296.8L81.5,297.8L82.6,298.8L83.7,299.8L84.8,300.8L85.9,301.9L86.9,302.9L88.0,304.0L89.0,305.1L90.0,306.2L91.0,307.3L92.0,308.5L93.0,309.6L94.0,310.8L95.0,311.9L95.9,313.1L96.9,314.2L97.9,315.4L98.8,316.6L99.8,317.8L100.7,319.0L101.7,320.1L102.6,321.3L103.5,322.5L104.5,323.7L105.4,324.9L106.3,326.1L107.2,327.3L108.0,328.5L108.9,329.7L109.7,331.0L110.6,332.2L111.4,333.4L112.2,334.7L113.0,335.9L113.7,337.1L114.5,338.4L115.2,339.7L115.9,340.9L116.6,342.2L117.3,343.5L118.0,344.7L118.8,346.0L119.5,347.3L120.4,348.5L121.3,349.8L122.3,351.0L123.3,352.2L124.5,353.5L125.7,354.6L127.1,355.8L128.5,356.8L129.9,357.8L131.4,358.5L132.8,359.1L134.2,359.5L135.5,359.6L136.8,359.4L137.9,359.0L139.0,358.4L140.0,357.5L140.9,356.5L141.8,355.3L142.6,354.0L143.3,352.6L144.0,351.2L144.7,349.7L145.2,348.2L145.8,346.8L146.3,345.3L146.8,343.9L147.2,342.4L147.6,341.0L148.0,339.5L148.3,338.1L148.7,336.7L149.0,335.2L149.3,333.8L149.6,332.3L149.9,330.8L150.2,329.4L150.5,327.9L150.8,326.5L151.1,325.0L151.4,323.5L151.8,322.1L152.1,320.6L152.4,319.2L152.7,317.7L153.1,316.3L153.5,314.8L153.9,313.4L154.3,311.9L154.7,310.5L155.2,309.1L155.7,307.6L156.2,306.2L156.7,304.8L157.3,303.4L157.9,302.0L158.5,300.6L159.1,299.2L159.7,297.8L160.3,296.5L161.0,295.1L161.7,293.7L162.3,292.3L163.0,291.0L163.6,289.6L164.3,288.3L164.9,286.9L165.6,285.5L166.2,284.2L166.8,282.8L167.4,281.5L168.0,280.1L168.6,278.8L169.1,277.4L169.6,276.1L170.1,274.7L170.6,273.3L171.1,272.0L171.5,270.6L172.0,269.2L172.4,267.9L172.8,266.5L173.3,265.1L173.7,263.7L174.1,262.2L174.6,260.8L175.0,259.4L175.5,257.9L176.0,256.5L176.5,255.0L177.0,253.5L177.6,252.0L178.1,250.5L178.7,249.0L179.4,247.6L180.0,246.1L180.7,244.7L181.5,243.3L182.2,242.0L183.0,240.6L183.9,239.4L184.8,238.2L185.8,237.1L186.8,236.0L187.8,235.0L188.9,234.1L190.1,233.3L191.3,232.5L192.6,231.9L193.9,231.2L195.2,230.7L196.6,230.2L198.0,229.7L199.4,229.3L200.9,228.9L202.3,228.5L203.8,228.2L205.3,227.8L206.7,227.5L208.2,227.2L209.7,226.8L211.2,226.5L212.6,226.2L214.1,225.9L215.6,225.6L217.1,225.3L218.5,225.0L220.0,224.7L221.5,224.4L223.0,224.1L224.4,223.9L225.9,223.6L227.4,223.3L228.9,223.1L230.4,222.8L231.8,222.6L233.3,222.3L234.8,222.1L236.3,221.8L237.8,221.6L239.3,221.3L240.7,221.1L242.2,220.9L243.7,220.7L245.2,220.5L246.7,220.2L248.2,220.0L249.6,219.8L251.1,219.6L252.6,219.4L254.1,219.2L255.6,219.0L257.1,218.8L258.6,218.6L260.0,218.5L261.5,218.3L263.0,218.1L264.5,217.9L266.0,217.8L267.5,217.6L269.0,217.4L270.5,217.2L272.0,217.1L273.4,216.9L274.9,216.8L276.4,216.6L277.9,216.4L279.4,216.3L280.9,216.1L282.4,216.0L283.9,215.8L285.4,215.7L286.9,215.6L288.4,215.4L289.8,215.3L291.3,215.1L292.8,215.0L294.3,214.9L295.8,214.7L297.3,214.6L298.8,214.5L300.3,214.3L301.8,214.2L303.3,214.1L304.8,213.9L306.3,213.8L307.8,213.7L309.3,213.6L310.8,213.4L312.3,213.3L313.7,213.2L315.2,213.1L316.7,212.9L318.2,212.8L319.7,212.7L321.2,212.6L322.7,212.4L324.2,212.3L325.7,212.2L327.2,212.1L328.7,212.0L330.2,211.8L331.7,211.7L333.2,211.6L334.7,211.5L336.2,211.3L337.7,211.2L339.2,211.1L340.7,211.0L342.2,210.9L343.7,210.8L345.2,210.6L346.6,210.5L348.1,210.4L349.6,210.3L351.1,210.2L352.6,210.1L354.1,210.0L355.6,209.8L357.1,209.7L358.6,209.6L360.1,209.5L361.6,209.4L363.1,209.3L364.6,209.2L366.1,209.1L367.6,209.0L369.1,208.9L370.6,208.8L372.1,208.7L373.6,208.5L375.1,208.4L376.6,208.3L378.1,208.2L379.6,208.1L381.1,208.0L382.6,207.9L384.1,207.9L385.6,207.8L387.0,207.7L388.5,207.6L390.0,207.5L391.5,207.4L393.0,207.3L394.5,207.2L396.0,207.1L397.5,207.0L399.0,206.9L400.5,206.8L402.0,206.8L403.5,206.7L405.0,206.6L406.5,206.5L408.0,206.4L409.5,206.4L411.0,206.3L412.5,206.2L414.0,206.1L415.5,206.0L417.0,206.0L418.5,205.9L420.0,205.8L421.4,205.8L422.9,205.7L424.4,205.6L425.9,205.6L427.4,205.5L428.9,205.4L430.4,205.4L431.9,205.3L433.4,205.3L434.9,205.2L436.4,205.1L437.9,205.1L439.4,205.0L440.9,205.0L442.4,204.9L443.9,204.9L445.3,204.8L446.8,204.8L448.3,204.7L449.8,204.7L451.3,204.6L452.8,204.6L454.3,204.5L455.8,204.4L457.3,204.4L458.8,204.3L460.3,204.2L461.8,204.1L463.3,204.1L464.8,204.0L466.3,203.9L467.8,203.8L469.3,203.7L470.8,203.5L472.3,203.4L473.8,203.3L475.3,203.2L476.8,203.0L478.3,202.8L479.8,202.7L481.3,202.5L482.8,202.3L484.3,202.1L485.8,201.9L487.3,201.7L488.8,201.5L490.3,201.2L491.8,200.9L493.4,200.7L494.9,200.4L496.6,200.0L498.3,199.6L500.0,199.2L501.2,198.8L501.7,198.4L501.2,198.0L500.0,197.7L498.3,197.4L496.5,197.3L494.7,197.2L492.9,197.2L491.2,197.2L489.4,197.2L487.8,197.1L486.2,197.1L484.6,197.1L483.1,197.1L481.6,197.1L480.2,197.0L478.8,197.0L477.3,197.0L475.9,196.9L474.6,196.9L473.2,196.8L471.8,196.7L470.4,196.7L469.0,196.6L467.5,196.6L466.1,196.5L464.6,196.4L463.2,196.3L461.7,196.2L460.2,196.2L458.7,196.1L457.2,196.0L455.7,195.9L454.2,195.8L452.7,195.7L451.1,195.6L449.6,195.5L448.1,195.3L446.5,195.2L445.0,195.1L443.5,195.0L441.9,194.9L440.4,194.7L438.9,194.6L437.4,194.5L435.8,194.3L434.3,194.2L432.8,194.0L431.3,193.9L429.8,193.7L428.3,193.6L426.8,193.4L425.3,193.3L423.8,193.1L422.3,193.0L420.8,192.8L419.3,192.6L417.9,192.5L416.4,192.3L414.9,192.1L413.4,191.9L411.9,191.8L410.5,191.6L409.0,191.4L407.5,191.2L406.0,191.0L404.6,190.8L403.1,190.6L401.6,190.5L400.2,190.3L398.7,190.1L397.2,189.9L395.7,189.7L394.3,189.5L392.8,189.3L391.3,189.1L389.9,188.9L388.4,188.7L386.9,188.5L385.4,188.3L384.0,188.1L382.5,187.9L381.0,187.7L379.5,187.5L378.1,187.3L376.6,187.1L375.1,186.9L373.6,186.6L372.1,186.4L370.6,186.2L369.2,186.0L367.7,185.8L366.2,185.6L364.7,185.4L363.2,185.2L361.7,185.0L360.2,184.7L358.7,184.5L357.2,184.3L355.7,184.1L354.2,183.8L352.7,183.6L351.2,183.4L349.7,183.1L348.3,182.9L346.8,182.6L345.3,182.4L343.8,182.1L342.3,181.9L340.8,181.6L339.3,181.4L337.8,181.1L336.3,180.8L334.8,180.6L333.3,180.3L331.9,180.0L330.4,179.7L328.9,179.4L327.4,179.1L325.9,178.8L324.5,178.5L323.0,178.2L321.5,177.8L320.1,177.5L318.6,177.2L317.1,176.8L315.7,176.5L314.2,176.1L312.7,175.7L311.3,175.4L309.8,175.0L308.4,174.6L306.9,174.2L305.5,173.8L304.1,173.4L302.6,173.0L301.2,172.5L299.8,172.1L298.4,171.7L296.9,171.2L295.5,170.8L294.1,170.3L292.7,169.8L291.3,169.3L289.9,168.8L288.5,168.3L287.1,167.8L285.7,167.3L284.3,166.8L282.9,166.2L281.6,165.7L280.2,165.2L278.8,164.6L277.4,164.0L276.1,163.5L274.7,162.9L273.3,162.3L272.0,161.7L270.6,161.1L269.3,160.5L267.9,159.9L266.6,159.3L265.2,158.6L263.9,158.0L262.6,157.3L261.2,156.7L259.9,156.0L258.6,155.4L257.2,154.7L255.9,154.0L254.6,153.3L253.3,152.6L251.9,151.9L250.6,151.2L249.3,150.5L248.0,149.8L246.7,149.0L245.4,148.3L244.1,147.6L242.8,146.8L241.5,146.1L240.2,145.3L238.9,144.5L237.6,143.7L236.3,143.0L235.0,142.2L233.7,141.4L232.5,140.6L231.2,139.8L229.9,139.0L228.6,138.1L227.3,137.3L226.1,136.5L224.8,135.6L223.5,134.8L222.2,133.9L221.0,133.1L219.7,132.2L218.4,131.4L217.2,130.5L215.9,129.6L214.7,128.7L213.4,127.8L212.1,126.9L210.9,126.0L209.6,125.1L208.4,124.2L207.1,123.3L205.9,122.4L204.6,121.6L203.3,120.8L202.1,120.0L200.8,119.3L199.5,118.6L198.2,118.1L196.9,117.6L195.6,117.2L194.3,116.9L192.9,116.7L191.5,116.6L190.2,116.6L188.8,116.8L187.4,117.1L186.0,117.5L184.6,118.0L183.2,118.7L181.9,119.4L180.6,120.2L179.3,121.1L178.1,122.0L177.0,123.0L176.0,124.0L175.0,125.1L174.0,126.3L173.2,127.4L172.4,128.7L171.6,129.9L170.9,131.2L170.2,132.6L169.5,133.9L168.9,135.3L168.4,136.7L167.8,138.1L167.3,139.6L166.8,141.1L166.3,142.5L165.9,144.0L165.4,145.5L165.0,147.0L164.5,148.5L164.1,150.0L163.7,151.5L163.2,153.0L162.8,154.5L162.3,156.0L161.8,157.4L161.3,158.8L160.8,160.2L160.2,161.6L159.7,163.0L159.1,164.3L158.5,165.6L157.9,166.9L157.2,168.3L156.6,169.6L156.0,170.8L155.3,172.1L154.7,173.5L154.1,174.8L153.5,176.1L152.9,177.5L152.3,178.8L151.8,180.2L151.2,181.6L150.7,183.0L150.2,184.5L149.7,185.9L149.2,187.4L148.7,188.8L148.3,190.3L147.8,191.8L147.3,193.2L146.8,194.7L146.3,196.2L145.8,197.7L145.3,199.1L144.8,200.6L144.3,202.0L143.7,203.4L143.1,204.9L142.5,206.3L141.9,207.6L141.3,209.0L140.6,210.3L139.9,211.7L139.2,212.9L138.4,214.2L137.6,215.4L136.7,216.6L135.9,217.8L134.9,218.9L133.9,220.0L132.9,221.1L131.9,222.1L130.8,223.0L129.6,224.0L128.5,224.9L127.3,225.7L126.1,226.6L124.8,227.4L123.5,228.1L122.2,228.8L120.9,229.5L119.6,230.1L118.2,230.7L116.8,231.3L115.4,231.8L114.0,232.3L112.6,232.8L111.2,233.2L109.8,233.6L108.3,234.0L106.9,234.3L105.4,234.6L104.0,234.9L102.5,235.2L101.0,235.4L99.5,235.7L98.0,235.9L96.5,236.0L95.0,236.2L93.5,236.4L92.0,236.5L90.5,236.6L88.9,236.8L87.4,236.9L85.9,237.0L84.4,237.0L82.8,237.1L81.3,237.2L79.8,237.3L78.3,237.4L76.7,237.5L75.2,237.5L73.7,237.6L72.2,237.7L70.7,237.8L69.2,237.9L67.7,238.0L66.2,238.1L64.7,238.2L63.2,238.4L61.8,238.5L60.3,238.7L58.8,238.8L57.3,239.0L55.9,239.2L54.4,239.3L53.0,239.5L51.5,239.7L50.0,239.8L48.6,240.0L47.1,240.2L45.6,240.4L44.2,240.5L42.7,240.7L41.2,240.9L39.7,241.0L38.3,241.2L36.8,241.3L35.3,241.5L33.8,241.6L32.3,241.7L30.8,241.8L29.2,241.9L27.7,242.0L26.2,242.1L24.6,242.2" fill="none" stroke="#00ffff" stroke-width="3.4" stroke-linecap="round" stroke-linejoin="round"/>
<path d="M25.6,281.7L27.0,282.1L28.4,282.5L29.8,282.9L31.3,283.3L32.7,283.7L34.1,284.2L35.5,284.6L36.9,285.1L38.3,285.6L39.7,286.2L41.1,286.7L42.5,287.3L43.9,287.8L45.2,288.4L46.6,289.0L48.0,289.7L49.4,290.3L50.7,291.0L52.1,291.7L53.4,292.3L54.8,293.1L56.1,293.8L57.4,294.5L58.7,295.3L60.0,296.1L61.3,296.8L62.6,297.7L63.9,298.5L65.2,299.3L66.4,300.2L67.7,301.0L68.9,301.9L70.1,302.8L71.3,303.7L72.5,304.6L73.7,305.6L74.9,306.5L76.0,307.5L77.1,308.5L78.3,309.5L79.4,310.5L80.5,311.5L81.5,312.6L82.6,313.6L83.7,314.7L84.7,315.8L85.7,316.9L86.7,318.0L87.7,319.1L88.6,320.3L89.5,321.4L90.5,322.6L91.4,323.8L92.2,324.9L93.1,326.1L93.9,327.4L94.8,328.6L95.6,329.8L96.4,331.1L97.1,332.3L97.9,333.6L98.7,334.9L99.4,336.1L100.1,337.4L100.9,338.7L101.6,340.0L102.3,341.3L103.0,342.7L103.7,344.0L104.4,345.3L105.1,346.6L105.8,348.0L106.5,349.3L107.1,350.6L107.8,352.0L108.5,353.3L109.2,354.7L109.9,356.0L110.6,357.3L111.3,358.7L112.1,360.0L112.8,361.3L113.5,362.7L114.3,364.0L115.0,365.3L115.8,366.6L116.6,368.0L117.4,369.3L118.2,370.6L119.0,371.9L119.9,373.2L120.7,374.5L121.6,375.7L122.5,377.0L123.5,378.2L124.4,379.4L125.4,380.6L126.4,381.6L127.5,382.5L128.6,383.3L129.8,384.0L131.1,384.4L132.4,384.7L133.7,384.7L135.1,384.6L136.5,384.1L137.8,383.5L139.0,382.6L140.1,381.6L141.1,380.4L142.0,379.1L142.8,377.8L143.4,376.4L144.0,375.0L144.6,373.6L145.0,372.2L145.5,370.8L145.9,369.4L146.3,367.9L146.7,366.5L147.0,365.1L147.4,363.6L147.8,362.2L148.2,360.8L148.5,359.3L148.9,357.9L149.2,356.4L149.5,354.9L149.9,353.5L150.2,352.0L150.5,350.5L150.9,349.1L151.2,347.6L151.5,346.1L151.8,344.6L152.1,343.2L152.4,341.7L152.8,340.2L153.1,338.7L153.4,337.3L153.7,335.8L154.0,334.3L154.3,332.8L154.6,331.3L155.0,329.9L155.3,328.4L155.6,326.9L155.9,325.4L156.3,324.0L156.6,322.5L156.9,321.0L157.3,319.6L157.6,318.1L158.0,316.7L158.3,315.2L158.7,313.7L159.1,312.3L159.5,310.9L159.9,309.4L160.3,308.0L160.7,306.6L161.1,305.1L161.5,303.7L161.9,302.3L162.4,300.9L162.8,299.5L163.3,298.1L163.8,296.7L164.2,295.3L164.7,293.9L165.2,292.5L165.7,291.1L166.2,289.7L166.7,288.4L167.2,287.0L167.7,285.6L168.2,284.2L168.7,282.8L169.2,281.4L169.7,280.0L170.2,278.6L170.7,277.1L171.1,275.7L171.6,274.3L172.1,272.8L172.5,271.4L173.0,269.9L173.4,268.5L173.9,267.0L174.3,265.5L174.7,264.0L175.2,262.5L175.6,261.0L176.0,259.5L176.5,258.0L176.9,256.6L177.4,255.1L177.8,253.6L178.4,252.2L178.9,250.8L179.4,249.3L180.0,248.0L180.6,246.6L181.3,245.3L182.0,244.0L182.7,242.7L183.5,241.5L184.3,240.3L185.2,239.2L186.1,238.1L187.1,237.0L188.1,236.0L189.2,235.0L190.3,234.1L191.5,233.2L192.6,232.3L193.9,231.5L195.1,230.7L196.4,229.9L197.7,229.2L199.0,228.5L200.3,227.8L201.7,227.2L203.1,226.6L204.4,226.0L205.8,225.5L207.2,224.9L208.7,224.4L210.1,224.0L211.5,223.5L212.9,223.1L214.4,222.7L215.8,222.3L217.3,221.9L218.7,221.6L220.2,221.2L221.6,220.9L223.1,220.6L224.6,220.3L226.0,220.0L227.5,219.8L229.0,219.5L230.5,219.3L232.0,219.0L233.5,218.8L234.9,218.6L236.4,218.3L237.9,218.1L239.4,217.9L240.9,217.7L242.4,217.5L243.9,217.3L245.4,217.1L246.9,216.8L248.4,216.6L249.9,216.4L251.3,216.2L252.8,216.0L254.3,215.8L255.8,215.6L257.3,215.4L258.8,215.2L260.3,215.0L261.8,214.8L263.3,214.6L264.8,214.4L266.2,214.2L267.7,214.0L269.2,213.8L270.7,213.6L272.2,213.4L273.7,213.3L275.2,213.1L276.7,212.9L278.2,212.7L279.6,212.5L281.1,212.3L282.6,212.1L284.1,212.0L285.6,211.8L287.1,211.6L288.6,211.4L290.1,211.2L291.6,211.1L293.0,210.9L294.5,210.7L296.0,210.5L297.5,210.4L299.0,210.2L300.5,210.0L302.0,209.9L303.5,209.7L305.0,209.5L306.4,209.4L307.9,209.2L309.4,209.0L310.9,208.9L312.4,208.7L313.9,208.5L315.4,208.4L316.9,208.2L318.3,208.1L319.8,207.9L321.3,207.8L322.8,207.6L324.3,207.4L325.8,207.3L327.3,207.1L328.8,207.0L330.3,206.8L331.7,206.7L333.2,206.5L334.7,206.4L336.2,206.2L337.7,206.1L339.2,206.0L340.7,205.8L342.2,205.7L343.7,205.5L345.1,205.4L346.6,205.3L348.1,205.1L349.6,205.0L351.1,204.8L352.6,204.7L354.1,204.6L355.6,204.4L357.1,204.3L358.6,204.2L360.0,204.1L361.5,203.9L363.0,203.8L364.5,203.7L366.0,203.5L367.5,203.4L369.0,203.3L370.5,203.2L372.0,203.0L373.5,202.9L375.0,202.8L376.4,202.7L377.9,202.6L379.4,202.5L380.9,202.3L382.4,202.2L383.9,202.1L385.4,202.0L386.9,201.9L388.4,201.8L389.9,201.7L391.4,201.5L392.9,201.4L394.3,201.3L395.8,201.2L397.3,201.1L398.8,201.0L400.3,200.9L401.8,200.8L403.3,200.7L404.8,200.6L406.3,200.5L407.8,200.4L409.3,200.3L410.8,200.2L412.3,200.1L413.8,200.0L415.3,199.9L416.8,199.8L418.3,199.7L419.8,199.6L421.3,199.5L422.8,199.4L424.2,199.3L425.7,199.2L427.2,199.2L428.7,199.1L430.2,199.0L431.7,198.9L433.2,198.8L434.7,198.7L436.2,198.6L437.7,198.6L439.2,198.5L440.7,198.4L442.2,198.3L443.7,198.2L445.2,198.2L446.7,198.1L448.2,198.0L449.7,197.9L451.2,197.8L452.7,197.8L454.2,197.7L455.7,197.6L457.2,197.5L458.7,197.5L460.2,197.4L461.7,197.3L463.2,197.3L464.8,197.2L466.3,197.1L467.8,197.1L469.3,197.0L470.8,196.9L472.3,196.8L473.8,196.7L475.3,196.6L476.8,196.5L478.3,196.4L479.8,196.3L481.4,196.1L482.9,195.9L484.4,195.7L486.0,195.5L487.5,195.3L489.1,195.0L490.6,194.7L492.2,194.4L493.7,194.0L495.3,193.6L496.9,193.2L498.4,192.7L499.9,192.2L501.0,191.7L501.6,191.3L501.5,190.8L500.9,190.5L499.8,190.2L498.4,190.0L496.8,189.8L495.1,189.8L493.3,189.7L491.4,189.8L489.5,189.8L487.6,189.9L485.8,190.0L484.0,190.0L482.3,190.0L480.7,190.0L479.1,190.0L477.6,189.9L476.1,189.9L474.6,189.8L473.2,189.7L471.8,189.7L470.4,189.6L469.0,189.5L467.6,189.4L466.2,189.3L464.8,189.1L463.3,189.0L461.9,188.9L460.4,188.8L459.0,188.7L457.5,188.5L456.1,188.4L454.6,188.3L453.2,188.1L451.7,188.0L450.2,187.8L448.7,187.7L447.3,187.5L445.8,187.4L444.3,187.2L442.8,187.1L441.3,186.9L439.8,186.7L438.3,186.6L436.8,186.4L435.3,186.2L433.8,186.0L432.3,185.8L430.8,185.7L429.3,185.5L427.8,185.3L426.3,185.1L424.8,184.9L423.3,184.7L421.8,184.5L420.3,184.3L418.7,184.1L417.2,183.9L415.7,183.7L414.2,183.5L412.7,183.2L411.2,183.0L409.7,182.8L408.2,182.6L406.7,182.4L405.2,182.2L403.7,181.9L402.3,181.7L400.8,181.5L399.3,181.3L397.8,181.0L396.3,180.8L394.8,180.6L393.4,180.3L391.9,180.1L390.4,179.8L389.0,179.6L387.5,179.4L386.0,179.1L384.5,178.9L383.1,178.6L381.6,178.3L380.2,178.1L378.7,177.8L377.2,177.6L375.8,177.3L374.3,177.0L372.8,176.8L371.4,176.5L369.9,176.2L368.5,175.9L367.0,175.7L365.5,175.4L364.1,175.1L362.6,174.8L361.2,174.5L359.7,174.2L358.2,173.9L356.8,173.6L355.3,173.3L353.8,173.0L352.4,172.7L350.9,172.3L349.4,172.0L348.0,171.7L346.5,171.4L345.1,171.0L343.6,170.7L342.1,170.3L340.7,170.0L339.2,169.6L337.8,169.3L336.3,168.9L334.8,168.5L333.4,168.1L331.9,167.8L330.5,167.4L329.0,167.0L327.6,166.6L326.1,166.2L324.7,165.8L323.2,165.3L321.8,164.9L320.4,164.5L318.9,164.0L317.5,163.6L316.0,163.1L314.6,162.7L313.2,162.2L311.8,161.7L310.3,161.3L308.9,160.8L307.5,160.3L306.1,159.8L304.7,159.3L303.3,158.7L301.9,158.2L300.5,157.7L299.1,157.1L297.7,156.6L296.3,156.0L294.9,155.4L293.5,154.9L292.1,154.3L290.8,153.7L289.4,153.1L288.0,152.5L286.7,151.8L285.3,151.2L284.0,150.6L282.6,149.9L281.3,149.2L279.9,148.6L278.6,147.9L277.3,147.2L276.0,146.5L274.6,145.8L273.3,145.1L272.0,144.3L270.7,143.6L269.4,142.9L268.1,142.1L266.8,141.3L265.5,140.6L264.3,139.8L263.0,139.0L261.7,138.2L260.4,137.4L259.2,136.6L257.9,135.8L256.6,135.0L255.4,134.2L254.1,133.3L252.9,132.5L251.7,131.6L250.4,130.8L249.2,130.0L248.0,129.1L246.7,128.2L245.5,127.4L244.3,126.5L243.1,125.6L241.9,124.7L240.7,123.9L239.4,123.0L238.2,122.1L237.0,121.2L235.9,120.3L234.7,119.4L233.5,118.5L232.3,117.6L231.1,116.7L229.9,115.8L228.7,114.9L227.6,114.0L226.4,113.1L225.2,112.2L224.1,111.3L222.9,110.3L221.7,109.4L220.6,108.5L219.4,107.6L218.3,106.7L217.1,105.8L216.0,104.9L214.8,104.0L213.7,103.1L212.5,102.2L211.3,101.3L210.1,100.4L208.8,99.6L207.6,98.7L206.3,97.9L204.9,97.1L203.5,96.3L202.1,95.5L200.6,94.8L199.1,94.1L197.5,93.4L195.9,92.8L194.4,92.3L192.8,91.9L191.3,91.7L189.9,91.7L188.6,91.8L187.4,92.2L186.2,92.7L185.2,93.4L184.2,94.3L183.3,95.3L182.5,96.4L181.7,97.5L180.9,98.8L180.2,100.1L179.5,101.5L178.8,102.9L178.1,104.3L177.5,105.7L176.8,107.0L176.1,108.4L175.5,109.8L174.8,111.2L174.2,112.6L173.5,114.0L172.9,115.4L172.3,116.7L171.6,118.1L171.0,119.5L170.4,120.9L169.8,122.3L169.2,123.6L168.6,125.0L168.0,126.4L167.4,127.8L166.8,129.2L166.2,130.5L165.6,131.9L165.0,133.3L164.4,134.7L163.9,136.0L163.3,137.4L162.7,138.8L162.2,140.2L161.6,141.6L161.1,143.0L160.5,144.3L160.0,145.7L159.4,147.1L158.9,148.5L158.4,149.9L157.9,151.3L157.4,152.7L156.9,154.1L156.4,155.5L155.9,156.9L155.4,158.3L154.9,159.7L154.4,161.1L153.9,162.5L153.4,163.9L153.0,165.3L152.5,166.7L152.1,168.1L151.6,169.5L151.1,171.0L150.7,172.4L150.2,173.8L149.8,175.2L149.4,176.7L148.9,178.1L148.5,179.5L148.0,181.0L147.6,182.4L147.1,183.8L146.7,185.3L146.2,186.7L145.7,188.1L145.3,189.5L144.8,191.0L144.3,192.4L143.8,193.8L143.3,195.3L142.8,196.7L142.3,198.1L141.8,199.5L141.2,201.0L140.7,202.4L140.2,203.8L139.6,205.2L139.0,206.6L138.4,208.1L137.8,209.5L137.2,210.8L136.5,212.2L135.8,213.6L135.1,214.9L134.4,216.2L133.6,217.5L132.8,218.7L131.9,219.9L131.0,221.1L130.1,222.2L129.1,223.2L128.0,224.3L126.9,225.2L125.8,226.1L124.5,226.9L123.2,227.7L121.9,228.4L120.6,229.1L119.2,229.7L117.8,230.3L116.4,230.9L115.0,231.4L113.6,231.9L112.2,232.4L110.7,232.9L109.3,233.3L107.9,233.8L106.4,234.2L105.0,234.5L103.5,234.9L102.1,235.2L100.6,235.6L99.1,235.9L97.7,236.2L96.2,236.4L94.7,236.7L93.2,236.9L91.7,237.2L90.3,237.4L88.8,237.6L87.3,237.8L85.8,238.0L84.3,238.2L82.8,238.3L81.3,238.5L79.8,238.6L78.3,238.8L76.8,238.9L75.3,239.1L73.8,239.2L72.3,239.3L70.8,239.4L69.3,239.6L67.8,239.7L66.4,239.8L64.9,239.9L63.4,240.1L61.9,240.2L60.4,240.3L58.9,240.4L57.4,240.6L55.9,240.7L54.4,240.8L52.9,241.0L51.5,241.1L50.0,241.2L48.5,241.3L47.0,241.5L45.5,241.6L44.0,241.7L42.5,241.9L41.0,242.0L39.5,242.2L38.1,242.3L36.6,242.4L35.1,242.6L33.6,242.7L32.1,242.9L30.6,243.0L29.1,243.2L27.6,243.3L26.1,243.4L24.6,243.6" fill="none" stroke="#ff00ff" stroke-width="3.4" stroke-linecap="round" stroke-linejoin="round"/>
<path d="M25.6,291.0L27.0,291.4L28.4,291.8L29.9,292.3L31.3,292.8L32.6,293.3L34.0,293.8L35.4,294.3L36.8,294.9L38.2,295.5L39.5,296.1L40.9,296.7L42.2,297.4L43.5,298.1L44.8,298.7L46.2,299.5L47.5,300.2L48.7,300.9L50.0,301.7L51.3,302.5L52.6,303.3L53.8,304.1L55.1,305.0L56.3,305.8L57.5,306.7L58.7,307.6L59.9,308.5L61.1,309.4L62.3,310.4L63.5,311.3L64.6,312.3L65.8,313.3L66.9,314.3L68.0,315.3L69.1,316.3L70.2,317.4L71.3,318.4L72.4,319.5L73.4,320.6L74.5,321.7L75.5,322.8L76.5,323.9L77.5,325.0L78.5,326.2L79.5,327.3L80.5,328.5L81.4,329.7L82.4,330.9L83.3,332.1L84.2,333.3L85.1,334.5L86.0,335.7L86.8,337.0L87.7,338.2L88.5,339.5L89.3,340.7L90.1,342.0L90.9,343.3L91.7,344.6L92.4,345.9L93.1,347.2L93.9,348.5L94.6,349.8L95.3,351.1L95.9,352.4L96.6,353.7L97.2,355.1L97.9,356.4L98.5,357.8L99.1,359.1L99.7,360.5L100.3,361.8L100.9,363.2L101.5,364.5L102.1,365.9L102.7,367.3L103.2,368.6L103.8,370.0L104.4,371.4L105.0,372.7L105.5,374.1L106.1,375.5L106.7,376.9L107.2,378.3L107.8,379.6L108.4,381.0L109.0,382.4L109.5,383.8L110.1,385.1L110.7,386.5L111.3,387.9L112.0,389.3L112.6,390.6L113.2,392.0L113.9,393.4L114.5,394.7L115.2,396.1L115.9,397.5L116.6,398.8L117.3,400.2L118.0,401.5L118.8,402.8L119.6,404.2L120.4,405.5L121.2,406.8L122.0,408.2L122.9,409.5L123.7,410.7L124.7,412.0L125.6,413.1L126.6,414.1L127.7,415.0L128.9,415.7L130.1,416.2L131.4,416.4L132.8,416.4L134.3,416.2L135.7,415.7L137.1,415.0L138.2,414.1L139.2,413.0L140.1,411.8L140.8,410.5L141.4,409.1L141.9,407.6L142.3,406.1L142.7,404.5L143.1,403.0L143.5,401.4L143.9,399.9L144.2,398.5L144.6,397.0L145.0,395.6L145.4,394.2L145.8,392.7L146.2,391.3L146.6,389.9L147.0,388.5L147.4,387.1L147.8,385.6L148.1,384.2L148.5,382.8L148.9,381.3L149.3,379.9L149.7,378.4L150.0,377.0L150.4,375.6L150.8,374.1L151.1,372.7L151.5,371.2L151.8,369.8L152.2,368.3L152.6,366.8L152.9,365.4L153.3,363.9L153.6,362.5L153.9,361.0L154.3,359.5L154.6,358.1L155.0,356.6L155.3,355.1L155.6,353.7L156.0,352.2L156.3,350.7L156.6,349.3L156.9,347.8L157.3,346.3L157.6,344.9L157.9,343.4L158.2,341.9L158.5,340.4L158.8,339.0L159.1,337.5L159.4,336.0L159.7,334.5L160.0,333.1L160.3,331.6L160.6,330.1L160.9,328.6L161.2,327.2L161.4,325.7L161.7,324.2L162.0,322.8L162.3,321.3L162.5,319.8L162.8,318.3L163.1,316.9L163.3,315.4L163.6,313.9L163.9,312.5L164.2,311.0L164.4,309.5L164.7,308.1L165.0,306.6L165.3,305.1L165.5,303.7L165.8,302.2L166.1,300.8L166.4,299.3L166.7,297.8L167.0,296.4L167.3,294.9L167.6,293.5L167.9,292.0L168.2,290.6L168.6,289.1L168.9,287.6L169.2,286.2L169.6,284.7L169.9,283.3L170.3,281.9L170.7,280.4L171.0,279.0L171.4,277.5L171.8,276.1L172.2,274.6L172.6,273.2L173.1,271.8L173.5,270.3L173.9,268.9L174.4,267.4L174.9,266.0L175.4,264.6L175.9,263.2L176.4,261.7L176.9,260.3L177.4,258.9L178.0,257.4L178.5,256.0L179.1,254.6L179.7,253.2L180.3,251.8L181.0,250.4L181.6,249.0L182.3,247.6L182.9,246.3L183.7,244.9L184.4,243.6L185.1,242.3L185.9,241.0L186.7,239.8L187.5,238.5L188.3,237.3L189.2,236.1L190.1,234.9L191.0,233.8L191.9,232.6L192.9,231.6L193.8,230.5L194.9,229.5L195.9,228.5L197.0,227.6L198.1,226.6L199.2,225.8L200.4,224.9L201.6,224.2L202.8,223.4L204.0,222.7L205.3,222.0L206.6,221.4L207.9,220.8L209.3,220.2L210.6,219.6L212.0,219.1L213.4,218.6L214.9,218.2L216.3,217.7L217.8,217.3L219.2,216.9L220.7,216.5L222.2,216.2L223.7,215.9L225.2,215.5L226.7,215.2L228.3,214.9L229.8,214.7L231.3,214.4L232.9,214.1L234.4,213.9L236.0,213.6L237.5,213.4L239.1,213.1L240.6,212.9L242.1,212.7L243.7,212.4L245.2,212.2L246.7,212.0L248.2,211.7L249.8,211.5L251.3,211.3L252.8,211.0L254.3,210.8L255.8,210.6L257.3,210.4L258.8,210.1L260.3,209.9L261.8,209.7L263.3,209.5L264.8,209.2L266.2,209.0L267.7,208.8L269.2,208.6L270.7,208.4L272.2,208.2L273.6,207.9L275.1,207.7L276.6,207.5L278.1,207.3L279.5,207.1L281.0,206.9L282.5,206.7L283.9,206.5L285.4,206.3L286.9,206.1L288.3,205.8L289.8,205.6L291.3,205.4L292.7,205.2L294.2,205.0L295.7,204.8L297.1,204.6L298.6,204.5L300.0,204.3L301.5,204.1L303.0,203.9L304.4,203.7L305.9,203.5L307.4,203.3L308.8,203.1L310.3,202.9L311.8,202.7L313.2,202.6L314.7,202.4L316.2,202.2L317.6,202.0L319.1,201.8L320.6,201.7L322.1,201.5L323.5,201.3L325.0,201.1L326.5,201.0L328.0,200.8L329.5,200.6L330.9,200.5L332.4,200.3L333.9,200.1L335.4,200.0L336.9,199.8L338.4,199.6L339.9,199.5L341.4,199.3L342.8,199.1L344.3,199.0L345.8,198.8L347.3,198.7L348.8,198.5L350.3,198.4L351.8,198.2L353.3,198.1L354.8,197.9L356.3,197.8L357.8,197.6L359.3,197.5L360.8,197.3L362.3,197.2L363.8,197.0L365.3,196.9L366.8,196.7L368.3,196.6L369.8,196.4L371.3,196.3L372.8,196.2L374.3,196.0L375.8,195.9L377.3,195.8L378.8,195.6L380.3,195.5L381.8,195.3L383.3,195.2L384.8,195.1L386.3,194.9L387.8,194.8L389.3,194.7L390.8,194.6L392.3,194.4L393.8,194.3L395.3,194.2L396.8,194.0L398.3,193.9L399.8,193.8L401.3,193.7L402.8,193.5L404.3,193.4L405.8,193.3L407.3,193.2L408.8,193.1L410.3,192.9L411.8,192.8L413.3,192.7L414.8,192.6L416.3,192.5L417.8,192.3L419.3,192.2L420.8,192.1L422.3,192.0L423.8,191.9L425.3,191.8L426.8,191.7L428.3,191.5L429.8,191.4L431.3,191.3L432.7,191.2L434.2,191.1L435.7,191.0L437.2,190.9L438.7,190.8L440.2,190.7L441.7,190.6L443.1,190.4L444.6,190.3L446.1,190.2L447.6,190.1L449.1,190.0L450.5,189.9L452.0,189.8L453.5,189.7L455.0,189.6L456.4,189.5L457.9,189.4L459.4,189.3L460.9,189.2L462.3,189.1L463.8,189.0L465.3,188.9L466.7,188.8L468.2,188.7L469.6,188.6L471.1,188.5L472.6,188.3L474.1,188.2L475.6,188.1L477.1,188.0L478.6,187.9L480.1,187.7L481.6,187.6L483.2,187.5L484.7,187.3L486.3,187.2L488.0,187.0L489.6,186.8L491.2,186.5L492.8,186.2L494.5,185.8L496.1,185.3L497.7,184.7L499.2,184.0L500.5,183.2L501.4,182.5L501.7,181.8L501.3,181.2L500.3,180.6L499.0,180.2L497.4,179.9L495.7,179.8L494.0,179.7L492.3,179.7L490.6,179.7L488.9,179.8L487.2,179.9L485.5,179.9L483.9,180.0L482.3,180.0L480.8,179.9L479.3,179.9L477.8,179.8L476.3,179.7L474.9,179.6L473.5,179.4L472.0,179.3L470.6,179.2L469.2,179.0L467.7,178.9L466.3,178.7L464.8,178.6L463.4,178.5L461.9,178.3L460.5,178.2L459.0,178.1L457.5,177.9L456.0,177.8L454.6,177.7L453.1,177.5L451.6,177.4L450.1,177.3L448.6,177.1L447.1,177.0L445.6,176.8L444.1,176.7L442.6,176.5L441.1,176.4L439.6,176.2L438.1,176.1L436.6,175.9L435.1,175.7L433.6,175.5L432.1,175.4L430.5,175.2L429.0,175.0L427.5,174.8L426.0,174.6L424.5,174.4L423.0,174.2L421.5,173.9L420.0,173.7L418.5,173.5L417.0,173.2L415.6,173.0L414.1,172.7L412.6,172.4L411.1,172.2L409.6,171.9L408.2,171.6L406.7,171.3L405.2,171.0L403.8,170.7L402.3,170.4L400.8,170.1L399.4,169.8L397.9,169.5L396.5,169.2L395.0,168.9L393.5,168.6L392.1,168.3L390.6,167.9L389.2,167.6L387.7,167.3L386.3,167.0L384.8,166.7L383.4,166.4L381.9,166.0L380.5,165.7L379.0,165.4L377.6,165.1L376.1,164.7L374.7,164.4L373.2,164.1L371.8,163.7L370.3,163.4L368.9,163.1L367.4,162.7L366.0,162.4L364.5,162.1L363.0,161.7L361.6,161.4L360.1,161.0L358.7,160.7L357.2,160.3L355.7,160.0L354.3,159.6L352.8,159.3L351.3,158.9L349.9,158.6L348.4,158.2L346.9,157.8L345.5,157.5L344.0,157.1L342.5,156.7L341.1,156.3L339.6,155.9L338.2,155.5L336.7,155.1L335.3,154.7L333.8,154.3L332.3,153.9L330.9,153.5L329.5,153.1L328.0,152.6L326.6,152.2L325.1,151.7L323.7,151.3L322.3,150.8L320.8,150.3L319.4,149.8L318.0,149.3L316.6,148.8L315.2,148.3L313.8,147.8L312.4,147.3L311.0,146.7L309.6,146.2L308.2,145.6L306.8,145.0L305.5,144.4L304.1,143.9L302.7,143.2L301.4,142.6L300.0,142.0L298.7,141.3L297.4,140.7L296.0,140.0L294.7,139.3L293.4,138.6L292.1,137.9L290.8,137.2L289.5,136.5L288.2,135.7L287.0,135.0L285.7,134.2L284.4,133.4L283.2,132.6L282.0,131.7L280.7,130.9L279.5,130.0L278.3,129.2L277.1,128.3L275.9,127.4L274.8,126.5L273.6,125.5L272.4,124.6L271.2,123.6L270.1,122.7L268.9,121.7L267.8,120.8L266.6,119.8L265.5,118.8L264.4,117.8L263.2,116.8L262.1,115.8L261.0,114.8L259.8,113.8L258.7,112.8L257.6,111.8L256.5,110.8L255.3,109.8L254.2,108.8L253.1,107.8L251.9,106.8L250.8,105.8L249.6,104.9L248.5,103.9L247.3,102.9L246.2,102.0L245.0,101.0L243.8,100.1L242.7,99.2L241.5,98.3L240.3,97.4L239.1,96.5L237.9,95.6L236.7,94.8L235.4,93.9L234.2,93.1L233.0,92.3L231.7,91.5L230.5,90.7L229.2,89.9L228.0,89.1L226.7,88.3L225.4,87.6L224.2,86.8L222.9,86.0L221.6,85.2L220.4,84.4L219.1,83.7L217.8,82.9L216.5,82.1L215.3,81.3L214.0,80.5L212.8,79.7L211.5,78.8L210.3,78.0L209.0,77.2L207.8,76.3L206.5,75.5L205.2,74.6L203.9,73.8L202.6,73.0L201.3,72.2L200.0,71.4L198.6,70.7L197.2,70.0L195.8,69.4L194.4,68.8L193.0,68.4L191.6,68.2L190.3,68.1L189.0,68.2L187.8,68.5L186.7,69.1L185.6,69.9L184.6,71.0L183.7,72.2L182.9,73.6L182.1,75.0L181.3,76.4L180.6,77.8L179.9,79.2L179.2,80.6L178.6,82.0L178.0,83.4L177.4,84.8L176.9,86.2L176.3,87.6L175.8,89.1L175.3,90.5L174.8,91.9L174.3,93.3L173.8,94.7L173.4,96.1L172.9,97.6L172.4,99.0L172.0,100.4L171.5,101.8L171.0,103.2L170.5,104.6L170.1,106.0L169.6,107.4L169.1,108.8L168.7,110.3L168.2,111.7L167.7,113.1L167.2,114.5L166.8,115.9L166.3,117.3L165.8,118.7L165.4,120.1L164.9,121.5L164.4,122.9L164.0,124.3L163.5,125.7L163.0,127.1L162.6,128.5L162.1,129.9L161.6,131.3L161.2,132.7L160.7,134.1L160.2,135.5L159.8,137.0L159.3,138.4L158.9,139.8L158.4,141.2L157.9,142.6L157.5,144.0L157.0,145.5L156.6,146.9L156.1,148.3L155.7,149.7L155.2,151.1L154.8,152.6L154.4,154.0L153.9,155.4L153.5,156.9L153.1,158.3L152.6,159.8L152.2,161.2L151.8,162.7L151.3,164.1L150.9,165.6L150.5,167.0L150.1,168.5L149.7,169.9L149.3,171.4L148.9,172.9L148.5,174.4L148.1,175.8L147.7,177.3L147.3,178.8L146.9,180.3L146.5,181.8L146.1,183.3L145.7,184.8L145.3,186.3L144.9,187.8L144.5,189.2L144.1,190.7L143.7,192.2L143.2,193.7L142.8,195.1L142.3,196.6L141.8,198.0L141.3,199.5L140.8,200.9L140.3,202.3L139.7,203.7L139.2,205.0L138.6,206.4L137.9,207.7L137.3,209.0L136.6,210.3L135.9,211.6L135.1,212.9L134.4,214.1L133.6,215.3L132.7,216.5L131.8,217.6L130.9,218.7L129.9,219.8L128.9,220.9L127.9,221.9L126.8,222.9L125.7,223.9L124.6,224.8L123.4,225.7L122.2,226.6L121.0,227.4L119.8,228.3L118.5,229.0L117.2,229.8L115.9,230.5L114.6,231.2L113.2,231.9L111.9,232.5L110.5,233.1L109.1,233.7L107.8,234.2L106.4,234.7L104.9,235.2L103.5,235.7L102.1,236.1L100.7,236.5L99.2,236.9L97.8,237.2L96.3,237.5L94.8,237.9L93.3,238.1L91.9,238.4L90.4,238.7L88.9,238.9L87.4,239.1L85.9,239.3L84.4,239.5L82.9,239.7L81.4,239.9L79.9,240.0L78.3,240.1L76.8,240.3L75.3,240.4L73.8,240.5L72.3,240.6L70.7,240.7L69.2,240.8L67.7,240.9L66.2,241.0L64.7,241.1L63.1,241.2L61.6,241.3L60.1,241.5L58.6,241.6L57.1,241.7L55.6,241.8L54.1,241.9L52.6,242.0L51.1,242.2L49.7,242.3L48.2,242.5L46.7,242.7L45.3,242.8L43.8,243.0L42.3,243.2L40.9,243.4L39.4,243.6L38.0,243.9L36.5,244.1L35.1,244.3L33.6,244.5L32.1,244.7L30.6,245.0L29.1,245.2L27.6,245.4L26.1,245.6L24.6,245.8" fill="none" stroke="#ffff00" stroke-width="3.4" stroke-linecap="round" stroke-linejoin="round"/>
<path d="M25.6,297.4L27.1,297.9L28.5,298.4L30.0,299.0L31.4,299.5L32.9,300.1L34.3,300.7L35.6,301.3L37.0,302.0L38.4,302.6L39.7,303.3L41.1,304.0L42.4,304.8L43.7,305.5L45.0,306.3L46.3,307.0L47.5,307.8L48.8,308.6L50.0,309.5L51.2,310.3L52.4,311.2L53.6,312.1L54.8,313.0L56.0,313.9L57.1,314.8L58.2,315.8L59.4,316.7L60.5,317.7L61.6,318.7L62.7,319.7L63.7,320.8L64.8,321.8L65.8,322.8L66.9,323.9L67.9,325.0L68.9,326.1L69.9,327.2L70.9,328.3L71.9,329.4L72.8,330.6L73.8,331.7L74.7,332.9L75.6,334.0L76.5,335.2L77.4,336.4L78.3,337.6L79.2,338.8L80.1,340.1L80.9,341.3L81.8,342.5L82.6,343.8L83.4,345.1L84.2,346.3L85.0,347.6L85.8,348.9L86.6,350.2L87.3,351.5L88.1,352.8L88.8,354.1L89.6,355.4L90.3,356.7L91.0,358.1L91.7,359.4L92.4,360.7L93.0,362.1L93.7,363.4L94.4,364.8L95.0,366.2L95.7,367.5L96.3,368.9L96.9,370.3L97.5,371.6L98.1,373.0L98.7,374.4L99.3,375.8L99.9,377.2L100.5,378.5L101.1,379.9L101.7,381.3L102.2,382.7L102.8,384.1L103.4,385.5L103.9,386.9L104.5,388.3L105.0,389.7L105.6,391.0L106.1,392.4L106.7,393.8L107.3,395.2L107.8,396.6L108.4,398.0L108.9,399.4L109.5,400.7L110.0,402.1L110.6,403.5L111.2,404.9L111.8,406.2L112.3,407.6L112.9,408.9L113.5,410.3L114.1,411.7L114.7,413.0L115.3,414.4L115.9,415.7L116.6,417.0L117.2,418.4L117.9,419.7L118.6,421.0L119.4,422.4L120.1,423.7L121.0,425.1L121.8,426.4L122.7,427.7L123.6,429.1L124.6,430.4L125.6,431.8L126.6,433.1L127.7,434.3L128.8,435.4L130.0,436.3L131.1,436.9L132.2,437.1L133.3,437.0L134.3,436.6L135.3,435.8L136.3,434.8L137.2,433.6L138.1,432.2L139.0,430.7L139.8,429.1L140.5,427.4L141.2,425.8L141.8,424.2L142.3,422.7L142.8,421.1L143.3,419.7L143.7,418.2L144.1,416.8L144.5,415.4L144.8,414.0L145.1,412.6L145.5,411.2L145.8,409.8L146.1,408.4L146.4,407.0L146.8,405.6L147.1,404.2L147.4,402.8L147.8,401.3L148.1,399.9L148.5,398.4L148.8,397.0L149.2,395.6L149.5,394.1L149.9,392.6L150.3,391.2L150.6,389.7L151.0,388.2L151.3,386.8L151.7,385.3L152.0,383.8L152.4,382.4L152.7,380.9L153.1,379.4L153.4,377.9L153.7,376.4L154.1,375.0L154.4,373.5L154.7,372.0L155.0,370.5L155.3,369.1L155.6,367.6L155.9,366.1L156.2,364.6L156.5,363.2L156.8,361.7L157.1,360.2L157.4,358.7L157.7,357.3L158.0,355.8L158.3,354.3L158.6,352.8L158.8,351.4L159.1,349.9L159.4,348.4L159.7,346.9L159.9,345.5L160.2,344.0L160.5,342.5L160.8,341.0L161.0,339.6L161.3,338.1L161.6,336.6L161.8,335.2L162.1,333.7L162.4,332.2L162.7,330.7L162.9,329.3L163.2,327.8L163.5,326.3L163.7,324.9L164.0,323.4L164.3,321.9L164.6,320.4L164.8,319.0L165.1,317.5L165.4,316.0L165.7,314.6L166.0,313.1L166.3,311.6L166.5,310.2L166.8,308.7L167.1,307.2L167.4,305.8L167.7,304.3L168.0,302.8L168.3,301.4L168.7,299.9L169.0,298.5L169.3,297.0L169.6,295.5L169.9,294.1L170.3,292.6L170.6,291.2L170.9,289.7L171.3,288.2L171.6,286.8L172.0,285.3L172.3,283.9L172.7,282.4L173.1,281.0L173.5,279.5L173.8,278.1L174.2,276.6L174.6,275.2L175.0,273.7L175.4,272.3L175.9,270.8L176.3,269.4L176.7,267.9L177.2,266.5L177.6,265.1L178.1,263.6L178.6,262.2L179.1,260.8L179.6,259.4L180.1,257.9L180.6,256.5L181.1,255.1L181.7,253.7L182.2,252.3L182.8,250.9L183.4,249.5L184.0,248.1L184.6,246.8L185.3,245.4L185.9,244.0L186.6,242.7L187.3,241.4L188.0,240.1L188.8,238.8L189.6,237.6L190.4,236.4L191.3,235.2L192.2,234.0L193.2,232.9L194.1,231.8L195.2,230.8L196.3,229.8L197.4,228.9L198.5,227.9L199.7,227.1L201.0,226.2L202.2,225.5L203.5,224.7L204.8,224.0L206.2,223.3L207.6,222.6L209.0,222.0L210.4,221.4L211.8,220.9L213.3,220.4L214.7,219.9L216.2,219.4L217.7,218.9L219.2,218.5L220.6,218.1L222.1,217.8L223.6,217.4L225.1,217.1L226.6,216.8L228.1,216.5L229.5,216.2L231.0,215.9L232.5,215.7L234.0,215.5L235.4,215.2L236.9,215.0L238.4,214.8L239.8,214.6L241.3,214.4L242.8,214.2L244.2,214.0L245.7,213.8L247.2,213.6L248.6,213.4L250.1,213.1L251.5,212.9L253.0,212.7L254.5,212.4L255.9,212.2L257.4,211.9L258.8,211.6L260.3,211.3L261.8,211.0L263.2,210.6L264.7,210.3L266.1,209.9L267.6,209.5L269.1,209.2L270.5,208.8L272.0,208.4L273.4,208.0L274.9,207.7L276.4,207.3L277.8,206.9L279.3,206.6L280.8,206.2L282.2,205.9L283.7,205.5L285.2,205.2L286.6,204.9L288.1,204.6L289.6,204.3L291.0,203.9L292.5,203.6L294.0,203.3L295.4,203.0L296.9,202.8L298.4,202.5L299.9,202.2L301.3,201.9L302.8,201.6L304.3,201.4L305.8,201.1L307.3,200.9L308.7,200.6L310.2,200.4L311.7,200.1L313.2,199.9L314.6,199.6L316.1,199.4L317.6,199.2L319.1,199.0L320.6,198.7L322.1,198.5L323.5,198.3L325.0,198.1L326.5,197.9L328.0,197.7L329.5,197.5L331.0,197.3L332.5,197.1L333.9,196.9L335.4,196.7L336.9,196.5L338.4,196.4L339.9,196.2L341.4,196.0L342.9,195.8L344.4,195.7L345.9,195.5L347.3,195.3L348.8,195.2L350.3,195.0L351.8,194.9L353.3,194.7L354.8,194.6L356.3,194.4L357.8,194.3L359.3,194.1L360.8,194.0L362.3,193.8L363.8,193.7L365.2,193.5L366.7,193.4L368.2,193.3L369.7,193.1L371.2,193.0L372.7,192.9L374.2,192.7L375.7,192.6L377.2,192.5L378.7,192.4L380.2,192.2L381.7,192.1L383.2,192.0L384.7,191.9L386.2,191.7L387.7,191.6L389.2,191.5L390.7,191.4L392.2,191.3L393.6,191.1L395.1,191.0L396.6,190.9L398.1,190.8L399.6,190.7L401.1,190.5L402.6,190.4L404.1,190.3L405.6,190.2L407.1,190.1L408.6,189.9L410.1,189.8L411.6,189.7L413.1,189.6L414.6,189.5L416.1,189.3L417.6,189.2L419.1,189.1L420.5,189.0L422.0,188.8L423.5,188.7L425.0,188.6L426.5,188.4L428.0,188.3L429.5,188.2L431.0,188.0L432.5,187.9L434.0,187.8L435.5,187.6L437.0,187.5L438.4,187.3L439.9,187.2L441.4,187.0L442.9,186.9L444.4,186.8L445.9,186.6L447.4,186.4L448.9,186.3L450.4,186.1L451.8,186.0L453.3,185.8L454.8,185.6L456.3,185.5L457.8,185.3L459.3,185.1L460.8,184.9L462.2,184.8L463.7,184.6L465.2,184.4L466.7,184.2L468.2,184.0L469.6,183.8L471.1,183.6L472.6,183.4L474.1,183.2L475.6,183.0L477.1,182.8L478.6,182.6L480.0,182.3L481.5,182.1L483.0,181.9L484.5,181.7L486.0,181.4L487.6,181.2L489.1,180.9L490.6,180.7L492.1,180.5L493.7,180.2L495.3,179.9L496.9,179.5L498.6,179.2L500.2,178.7L501.4,178.2L501.7,177.7L501.1,177.1L499.9,176.6L498.2,176.1L496.5,175.8L494.8,175.5L493.0,175.3L491.4,175.2L489.7,175.1L488.2,175.0L486.6,174.8L485.1,174.7L483.7,174.6L482.2,174.4L480.8,174.3L479.4,174.1L477.9,174.0L476.5,173.8L475.0,173.7L473.6,173.5L472.1,173.4L470.6,173.2L469.1,173.0L467.6,172.9L466.2,172.7L464.7,172.5L463.2,172.4L461.7,172.2L460.2,172.0L458.7,171.8L457.2,171.7L455.7,171.5L454.2,171.3L452.7,171.1L451.2,170.9L449.7,170.7L448.2,170.5L446.7,170.3L445.2,170.1L443.7,169.9L442.2,169.7L440.7,169.4L439.2,169.2L437.7,169.0L436.3,168.8L434.8,168.6L433.3,168.3L431.8,168.1L430.3,167.9L428.9,167.6L427.4,167.4L425.9,167.1L424.4,166.9L422.9,166.6L421.5,166.4L420.0,166.1L418.5,165.9L417.1,165.6L415.6,165.4L414.1,165.1L412.6,164.9L411.2,164.6L409.7,164.3L408.2,164.1L406.8,163.8L405.3,163.5L403.8,163.3L402.3,163.0L400.9,162.7L399.4,162.4L397.9,162.1L396.5,161.8L395.0,161.5L393.5,161.3L392.1,161.0L390.6,160.7L389.1,160.3L387.7,160.0L386.2,159.7L384.7,159.4L383.3,159.1L381.8,158.8L380.4,158.4L378.9,158.1L377.4,157.8L376.0,157.4L374.5,157.1L373.0,156.7L371.6,156.4L370.1,156.0L368.6,155.7L367.2,155.3L365.7,154.9L364.3,154.6L362.8,154.2L361.4,153.8L359.9,153.4L358.4,153.0L357.0,152.6L355.5,152.2L354.1,151.8L352.6,151.4L351.2,151.0L349.7,150.6L348.3,150.1L346.9,149.7L345.4,149.2L344.0,148.8L342.6,148.3L341.1,147.9L339.7,147.4L338.3,146.9L336.8,146.4L335.4,145.9L334.0,145.4L332.6,144.9L331.2,144.4L329.8,143.9L328.4,143.4L327.0,142.9L325.6,142.3L324.2,141.8L322.8,141.2L321.4,140.7L320.0,140.1L318.6,139.5L317.3,138.9L315.9,138.3L314.5,137.7L313.2,137.1L311.8,136.5L310.5,135.9L309.1,135.2L307.8,134.6L306.4,133.9L305.1,133.3L303.8,132.6L302.5,131.9L301.1,131.2L299.8,130.5L298.5,129.8L297.2,129.1L295.9,128.3L294.6,127.6L293.4,126.8L292.1,126.1L290.8,125.3L289.6,124.5L288.3,123.7L287.0,122.9L285.8,122.1L284.6,121.3L283.3,120.5L282.1,119.6L280.9,118.8L279.7,117.9L278.5,117.0L277.3,116.1L276.1,115.2L274.9,114.3L273.7,113.4L272.6,112.5L271.4,111.6L270.2,110.6L269.1,109.7L267.9,108.7L266.8,107.7L265.7,106.8L264.5,105.8L263.4,104.8L262.3,103.8L261.1,102.8L260.0,101.8L258.9,100.8L257.8,99.8L256.7,98.7L255.6,97.7L254.5,96.7L253.4,95.7L252.3,94.6L251.2,93.6L250.1,92.5L249.0,91.5L247.9,90.4L246.8,89.4L245.7,88.3L244.6,87.3L243.5,86.2L242.4,85.2L241.3,84.1L240.2,83.1L239.2,82.0L238.1,81.0L237.0,79.9L235.9,78.9L234.8,77.8L233.7,76.8L232.6,75.7L231.5,74.7L230.4,73.7L229.3,72.6L228.2,71.6L227.1,70.6L226.0,69.6L224.9,68.6L223.8,67.5L222.6,66.5L221.5,65.5L220.4,64.5L219.3,63.6L218.1,62.6L217.0,61.6L215.8,60.6L214.7,59.7L213.5,58.7L212.4,57.8L211.2,56.9L210.1,55.9L208.9,55.0L207.7,54.1L206.5,53.2L205.3,52.3L204.1,51.5L202.9,50.6L201.7,49.8L200.5,48.9L199.3,48.1L198.0,47.3L196.8,46.5L195.5,45.9L194.3,45.3L193.1,44.9L191.9,44.6L190.7,44.6L189.5,44.7L188.3,45.1L187.1,45.7L186.0,46.6L184.9,47.7L183.9,48.9L182.8,50.3L181.9,51.8L180.9,53.4L180.1,55.0L179.3,56.6L178.5,58.2L177.9,59.7L177.3,61.2L176.7,62.6L176.2,64.0L175.8,65.3L175.3,66.6L175.0,68.0L174.6,69.3L174.3,70.6L173.9,71.9L173.6,73.2L173.3,74.5L173.0,75.9L172.6,77.3L172.3,78.7L171.9,80.2L171.6,81.7L171.2,83.1L170.8,84.6L170.4,86.2L170.0,87.7L169.6,89.2L169.2,90.7L168.9,92.2L168.5,93.7L168.1,95.2L167.7,96.7L167.3,98.1L166.9,99.6L166.5,101.1L166.1,102.6L165.8,104.0L165.4,105.5L165.0,106.9L164.6,108.4L164.2,109.9L163.8,111.3L163.4,112.7L163.1,114.2L162.7,115.6L162.3,117.1L161.9,118.5L161.5,119.9L161.1,121.4L160.7,122.8L160.3,124.2L160.0,125.7L159.6,127.1L159.2,128.5L158.8,130.0L158.4,131.4L158.0,132.8L157.6,134.2L157.2,135.7L156.9,137.1L156.5,138.5L156.1,139.9L155.7,141.3L155.3,142.8L154.9,144.2L154.5,145.6L154.1,147.1L153.8,148.5L153.4,149.9L153.0,151.3L152.6,152.8L152.2,154.2L151.8,155.6L151.4,157.1L151.0,158.5L150.6,160.0L150.2,161.4L149.8,162.9L149.4,164.3L149.1,165.8L148.7,167.2L148.3,168.7L147.9,170.2L147.5,171.6L147.1,173.1L146.7,174.6L146.3,176.1L145.9,177.5L145.5,179.0L145.1,180.5L144.7,182.0L144.3,183.5L143.9,185.0L143.4,186.5L143.0,188.0L142.6,189.5L142.1,191.0L141.7,192.4L141.2,193.9L140.8,195.4L140.3,196.8L139.8,198.3L139.2,199.7L138.7,201.1L138.1,202.6L137.6,204.0L137.0,205.3L136.4,206.7L135.7,208.0L135.0,209.4L134.4,210.7L133.6,212.0L132.9,213.2L132.1,214.5L131.3,215.7L130.5,216.9L129.6,218.1L128.7,219.2L127.8,220.3L126.8,221.4L125.8,222.4L124.8,223.4L123.7,224.4L122.6,225.4L121.4,226.3L120.3,227.2L119.0,228.0L117.8,228.8L116.5,229.6L115.2,230.4L113.9,231.1L112.6,231.8L111.2,232.5L109.9,233.1L108.5,233.7L107.1,234.3L105.7,234.9L104.3,235.4L102.9,235.9L101.4,236.4L100.0,236.9L98.6,237.3L97.2,237.7L95.7,238.1L94.3,238.5L92.8,238.9L91.4,239.2L89.9,239.5L88.4,239.8L87.0,240.1L85.5,240.4L84.0,240.7L82.5,240.9L81.1,241.1L79.6,241.4L78.1,241.6L76.6,241.8L75.1,242.0L73.6,242.2L72.1,242.3L70.6,242.5L69.1,242.7L67.6,242.8L66.1,243.0L64.6,243.1L63.1,243.3L61.6,243.4L60.1,243.6L58.6,243.7L57.1,243.9L55.6,244.0L54.1,244.2L52.6,244.3L51.1,244.5L49.6,244.7L48.1,244.8L46.6,245.0L45.1,245.2L43.6,245.4L42.1,245.6L40.7,245.8L39.2,246.0L37.7,246.2L36.2,246.5L34.8,246.7L33.3,247.0L31.8,247.3L30.4,247.6L28.9,247.9L27.5,248.3L26.0,248.6L24.6,249.0" fill="none" stroke="#808000" stroke-width="3.4" stroke-linecap="round" stroke-linejoin="round"/>
<path d="M80.20,222.60 C82.13,223.37 83.94,224.37 86.00,224.90 C88.19,225.47 90.52,225.85 93.00,225.80 C95.82,225.75 99.15,225.20 102.00,224.30 C104.81,223.42 107.54,222.00 110.00,220.50 C112.36,219.05 114.60,217.26 116.50,215.50 C118.22,213.91 119.69,212.22 121.00,210.50 C122.23,208.88 123.33,207.10 124.20,205.50 C124.95,204.12 125.40,202.83 126.00,201.50" fill="none" stroke="#f00" stroke-width="3.6" stroke-linecap="round"/>
<polygon points="123.0,200.3 129.9,201.9 129.3,189.2" fill="#f00"/>
<path d="M240.40,244.50 C235.90,244.53 231.43,244.17 226.90,244.60 C222.23,245.04 217.23,245.76 212.80,247.20 C208.51,248.59 203.84,250.76 200.70,253.00 C198.26,254.75 196.58,256.84 195.00,258.80 C193.62,260.51 192.73,262.27 191.60,264.00" fill="none" stroke="#f00" stroke-width="3.6" stroke-linecap="round"/>
<polygon points="187.0,264.1 194.4,265.8 187.6,276.0" fill="#f00"/>
<g style="will-change:transform" opacity="0.999">
<text x="24.60" y="534.6" text-anchor="middle" font-size="25" font-weight="bold" font-family='"Liberation Serif", serif'>-0.2</text>
<text x="144.04" y="534.6" text-anchor="middle" font-size="25" font-weight="bold" font-family='"Liberation Serif", serif'>0.0</text>
<text x="263.48" y="534.6" text-anchor="middle" font-size="25" font-weight="bold" font-family='"Liberation Serif", serif'>0.2</text>
<text x="382.92" y="534.6" text-anchor="middle" font-size="25" font-weight="bold" font-family='"Liberation Serif", serif'>0.4</text>
<text x="502.36" y="534.6" text-anchor="middle" font-size="25" font-weight="bold" font-family='"Liberation Serif", serif'>0.6</text>
<text x="621.80" y="534.6" text-anchor="middle" font-size="25" font-weight="bold" font-family='"Liberation Serif", serif'>0.8</text>
<text x="332.7" y="568.2" text-anchor="middle" font-size="27" font-weight="bold" font-family='"Liberation Serif", serif'>E / V</text>
<text x="26" y="36.8" font-size="28" font-weight="bold" font-family='"Liberation Serif", serif'>A</text>
<line x1="36.9" y1="89.4" x2="36.9" y2="162.8" stroke="#000" stroke-width="3.6"/>
<line x1="25.5" y1="89.4" x2="49.5" y2="89.4" stroke="#000" stroke-width="3.4"/>
<line x1="25.5" y1="162.8" x2="49.5" y2="162.8" stroke="#000" stroke-width="3.4"/>
<text x="49.4" y="129.9" font-size="21.6" font-weight="bold" font-family='"Liberation Serif", serif'>10 <tspan font-weight="normal">&#181;</tspan>A</text>
<rect x="390.7" y="242.6" width="273.5" height="207.2" fill="#fff" stroke="#333" stroke-width="1.1"/>
<line x1="386.90" y1="449.80" x2="390.70" y2="449.80" stroke="#333" stroke-width="1.1"/>
<line x1="388.30" y1="432.53" x2="390.70" y2="432.53" stroke="#333" stroke-width="1.1"/>
<line x1="386.90" y1="415.25" x2="390.70" y2="415.25" stroke="#333" stroke-width="1.1"/>
<line x1="388.30" y1="397.98" x2="390.70" y2="397.98" stroke="#333" stroke-width="1.1"/>
<line x1="386.90" y1="380.70" x2="390.70" y2="380.70" stroke="#333" stroke-width="1.1"/>
<line x1="388.30" y1="363.43" x2="390.70" y2="363.43" stroke="#333" stroke-width="1.1"/>
<line x1="386.90" y1="346.15" x2="390.70" y2="346.15" stroke="#333" stroke-width="1.1"/>
<line x1="388.30" y1="328.88" x2="390.70" y2="328.88" stroke="#333" stroke-width="1.1"/>
<line x1="386.90" y1="311.60" x2="390.70" y2="311.60" stroke="#333" stroke-width="1.1"/>
<line x1="388.30" y1="294.33" x2="390.70" y2="294.33" stroke="#333" stroke-width="1.1"/>
<line x1="386.90" y1="277.05" x2="390.70" y2="277.05" stroke="#333" stroke-width="1.1"/>
<line x1="388.30" y1="259.77" x2="390.70" y2="259.77" stroke="#333" stroke-width="1.1"/>
<line x1="386.90" y1="242.50" x2="390.70" y2="242.50" stroke="#333" stroke-width="1.1"/>
<line x1="390.70" y1="449.80" x2="390.70" y2="454.00" stroke="#333" stroke-width="1.1"/>
<line x1="405.93" y1="449.80" x2="405.93" y2="451.80" stroke="#333" stroke-width="1.1"/>
<line x1="421.15" y1="449.80" x2="421.15" y2="454.00" stroke="#333" stroke-width="1.1"/>
<line x1="436.38" y1="449.80" x2="436.38" y2="451.80" stroke="#333" stroke-width="1.1"/>
<line x1="451.60" y1="449.80" x2="451.60" y2="454.00" stroke="#333" stroke-width="1.1"/>
<line x1="466.82" y1="449.80" x2="466.82" y2="451.80" stroke="#333" stroke-width="1.1"/>
<line x1="482.05" y1="449.80" x2="482.05" y2="454.00" stroke="#333" stroke-width="1.1"/>
<line x1="497.27" y1="449.80" x2="497.27" y2="451.80" stroke="#333" stroke-width="1.1"/>
<line x1="512.50" y1="449.80" x2="512.50" y2="454.00" stroke="#333" stroke-width="1.1"/>
<line x1="527.73" y1="449.80" x2="527.73" y2="451.80" stroke="#333" stroke-width="1.1"/>
<line x1="542.95" y1="449.80" x2="542.95" y2="454.00" stroke="#333" stroke-width="1.1"/>
<line x1="558.17" y1="449.80" x2="558.17" y2="451.80" stroke="#333" stroke-width="1.1"/>
<line x1="573.40" y1="449.80" x2="573.40" y2="454.00" stroke="#333" stroke-width="1.1"/>
<line x1="588.62" y1="449.80" x2="588.62" y2="451.80" stroke="#333" stroke-width="1.1"/>
<line x1="603.85" y1="449.80" x2="603.85" y2="454.00" stroke="#333" stroke-width="1.1"/>
<line x1="619.08" y1="449.80" x2="619.08" y2="451.80" stroke="#333" stroke-width="1.1"/>
<line x1="634.30" y1="449.80" x2="634.30" y2="454.00" stroke="#333" stroke-width="1.1"/>
<line x1="649.52" y1="449.80" x2="649.52" y2="451.80" stroke="#333" stroke-width="1.1"/>
<line x1="664.75" y1="449.80" x2="664.75" y2="454.00" stroke="#333" stroke-width="1.1"/>
<text x="383.8" y="454.20" text-anchor="end" font-size="13.4" font-weight="bold" font-family='"Liberation Serif", serif'>0.0</text>
<text x="383.8" y="419.65" text-anchor="end" font-size="13.4" font-weight="bold" font-family='"Liberation Serif", serif'>10.0&#181;</text>
<text x="383.8" y="385.10" text-anchor="end" font-size="13.4" font-weight="bold" font-family='"Liberation Serif", serif'>20.0&#181;</text>
<text x="383.8" y="350.55" text-anchor="end" font-size="13.4" font-weight="bold" font-family='"Liberation Serif", serif'>30.0&#181;</text>
<text x="383.8" y="316.00" text-anchor="end" font-size="13.4" font-weight="bold" font-family='"Liberation Serif", serif'>40.0&#181;</text>
<text x="383.8" y="281.45" text-anchor="end" font-size="13.4" font-weight="bold" font-family='"Liberation Serif", serif'>50.0&#181;</text>
<text x="383.8" y="246.90" text-anchor="end" font-size="13.4" font-weight="bold" font-family='"Liberation Serif", serif'>60.0&#181;</text>
<text x="390.70" y="467.4" text-anchor="middle" font-size="13.4" font-weight="bold" font-family='"Liberation Serif", serif'>0.0</text>
<text x="421.15" y="467.4" text-anchor="middle" font-size="13.4" font-weight="bold" font-family='"Liberation Serif", serif'>0.1</text>
<text x="451.60" y="467.4" text-anchor="middle" font-size="13.4" font-weight="bold" font-family='"Liberation Serif", serif'>0.2</text>
<text x="482.05" y="467.4" text-anchor="middle" font-size="13.4" font-weight="bold" font-family='"Liberation Serif", serif'>0.3</text>
<text x="512.50" y="467.4" text-anchor="middle" font-size="13.4" font-weight="bold" font-family='"Liberation Serif", serif'>0.4</text>
<text x="542.95" y="467.4" text-anchor="middle" font-size="13.4" font-weight="bold" font-family='"Liberation Serif", serif'>0.5</text>
<text x="573.40" y="467.4" text-anchor="middle" font-size="13.4" font-weight="bold" font-family='"Liberation Serif", serif'>0.6</text>
<text x="603.85" y="467.4" text-anchor="middle" font-size="13.4" font-weight="bold" font-family='"Liberation Serif", serif'>0.7</text>
<text x="634.30" y="467.4" text-anchor="middle" font-size="13.4" font-weight="bold" font-family='"Liberation Serif", serif'>0.8</text>
<text x="664.75" y="467.4" text-anchor="middle" font-size="13.4" font-weight="bold" font-family='"Liberation Serif", serif'>0.9</text>
<text x="481.3" y="486.8" font-size="13.6" font-weight="bold" font-family='"Liberation Serif", serif'>[HQ]</text>
<text x="516.4" y="486.8" font-size="13.6" font-weight="bold" font-family='"Liberation Serif", serif'>x</text>
<text x="527.6" y="486.8" font-size="13.6" font-weight="bold" font-family='"Liberation Serif", serif'>10</text>
<text x="551.5" y="486.8" font-size="13.6" font-weight="bold" font-family='"Liberation Serif", serif'>M</text>
<text x="541.3" y="481.6" font-size="8.5" font-weight="bold" font-family='"Liberation Serif", serif'>-4</text>
<text transform="translate(340.4,369.8) rotate(-90)" font-size="13.7" font-weight="bold" font-family='"Liberation Serif", serif'>Ipa</text>
<text transform="translate(340.4,347) rotate(-90)" font-size="13.7" font-weight="bold" font-family='"Liberation Serif", serif'>[A]</text>
<text x="398.6" y="269.8" font-size="25.5" font-weight="bold" font-family='"Liberation Serif", serif'>B</text>
<rect x="417.55" y="422.01" width="7.2" height="7.2" fill="#000"/>
<rect x="448.00" y="405.78" width="7.2" height="7.2" fill="#000"/>
<rect x="478.45" y="378.14" width="7.2" height="7.2" fill="#000"/>
<rect x="508.90" y="358.79" width="7.2" height="7.2" fill="#000"/>
<rect x="539.35" y="333.22" width="7.2" height="7.2" fill="#000"/>
<rect x="569.80" y="309.04" width="7.2" height="7.2" fill="#000"/>
<rect x="600.25" y="286.58" width="7.2" height="7.2" fill="#000"/>
<rect x="630.70" y="264.47" width="7.2" height="7.2" fill="#000"/>
</g>
</svg>
</body></html>
